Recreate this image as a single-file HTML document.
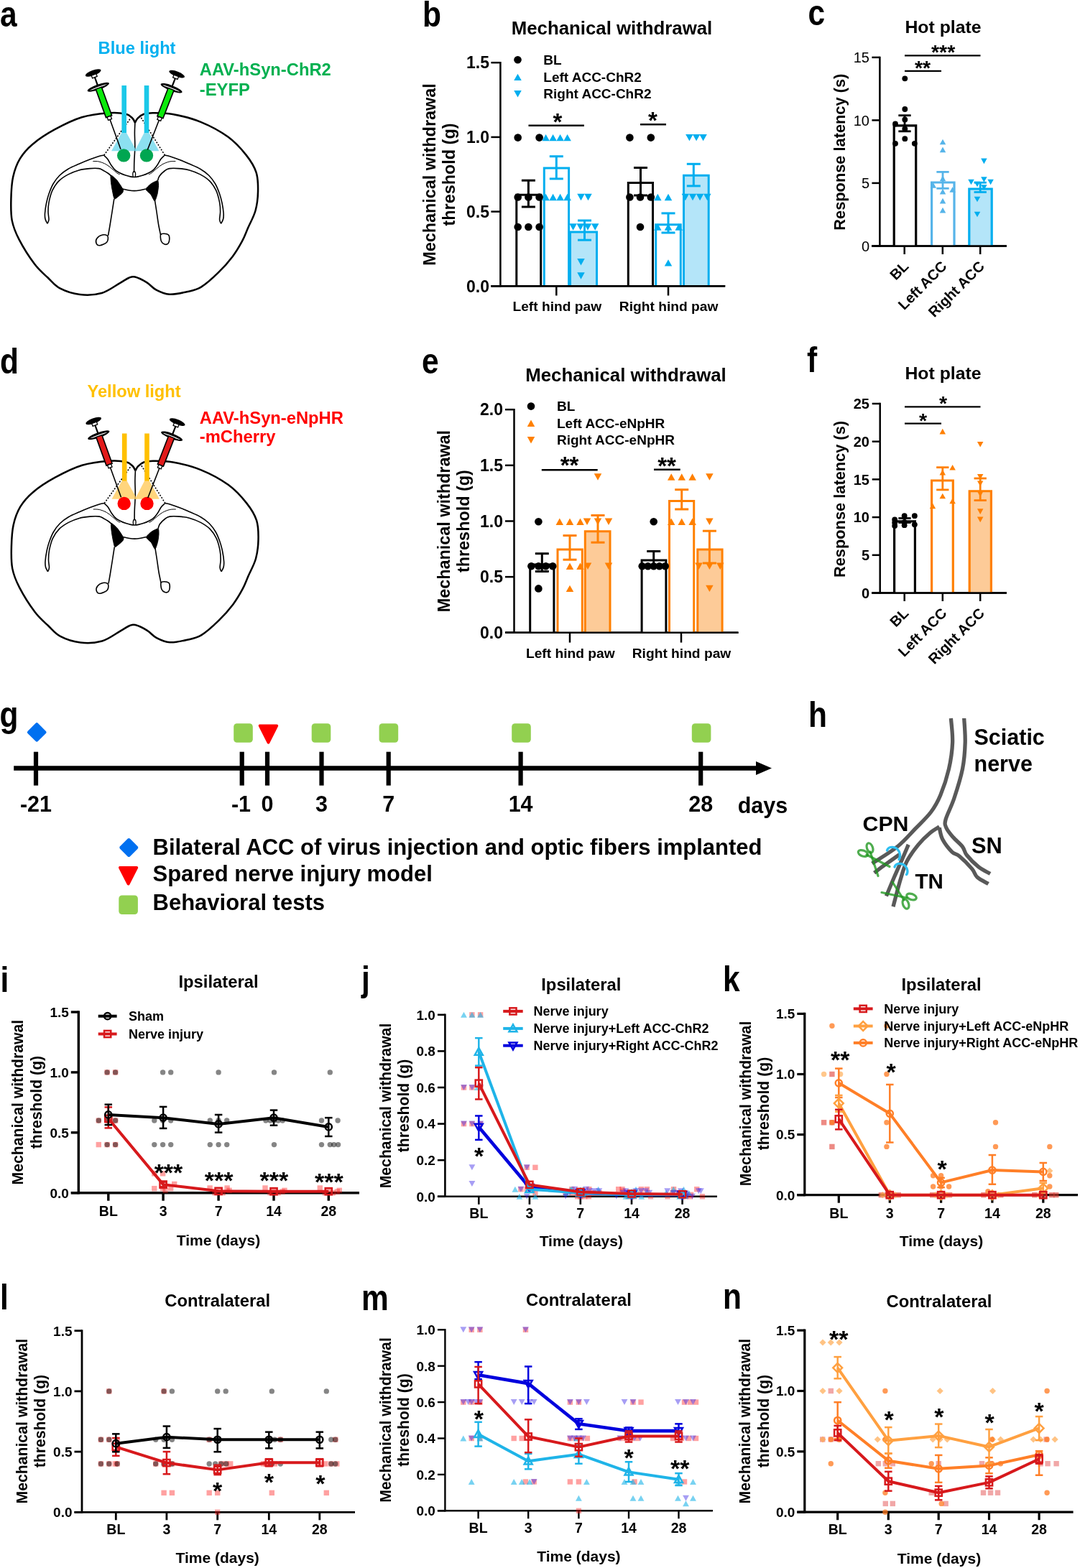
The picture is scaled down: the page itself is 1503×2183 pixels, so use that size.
<!DOCTYPE html><html><head><meta charset="utf-8"><title>Figure</title><style>html,body{margin:0;padding:0;background:#fff;overflow:hidden;}svg{display:block;}text{font-family:"Liberation Sans",Arial,Helvetica,sans-serif;font-weight:bold;}</style></head><body><svg width="1503" height="2183" viewBox="0 0 1503 2183"><rect width="1503" height="2183" fill="#fff"/><text transform="translate(0,37.3) scale(0.85,1)" x="0" y="0" font-size="50">a</text>
<g transform="translate(0,0)">
<path d="M187.86,170.85 C187.23,169.75 186.3,166.34 184.07,164.27 C181.84,162.21 179.86,159.64 174.46,158.46 C169.07,157.28 161.82,156.39 151.71,157.19 C141.59,157.99 126.42,159.38 113.78,163.26 C101.14,167.14 87.23,174.22 75.85,180.46 C64.48,186.69 53.52,193.94 45.51,200.68 C37.51,207.43 32.36,213.32 27.81,220.91 C23.26,228.5 20.27,236.92 18.2,246.19 C16.14,255.47 15.68,266.42 15.42,276.54 C15.17,286.65 14.83,297.4 16.69,306.88 C18.54,316.36 21.32,323.31 26.55,333.43 C31.77,343.54 41.38,358.71 48.04,367.56 C54.7,376.41 60.6,380.88 66.5,386.52 C72.4,392.17 75.98,397.52 83.44,401.44 C90.9,405.36 101.56,408.94 111.25,410.04 C120.94,411.13 132.32,410.67 141.59,408.02 C150.86,405.36 160.56,397.65 166.88,394.11 C173.2,390.57 176.02,388.21 179.52,386.78 C183.02,385.34 183.78,384.46 187.86,385.51 C191.95,386.57 199.12,390.06 204.05,393.1 C208.98,396.13 212.14,400.94 217.45,403.72 C222.76,406.5 228.82,409.36 235.9,409.79 C242.98,410.21 252.59,407.93 259.92,406.25 C267.26,404.56 272.61,404.1 279.9,399.67 C287.19,395.25 296.38,386.78 303.67,379.7 C310.96,372.62 318.08,364.53 323.64,357.19 C329.2,349.86 333.46,342.36 337.04,335.7 C340.62,329.04 342.06,324.32 345.13,317.24 C348.21,310.16 353.18,301.69 355.5,293.22 C357.82,284.75 358.87,275.31 359.04,266.42 C359.21,257.53 359.25,248.3 356.51,239.87 C353.77,231.45 349.14,224.07 342.6,215.85 C336.07,207.64 327.86,198.24 317.32,190.57 C306.78,182.9 292.25,175.1 279.39,169.84 C266.54,164.57 251.37,161.07 240.2,158.96 C229.03,156.86 219.13,157.19 212.39,157.19 C205.65,157.19 203.2,157.74 199.75,158.96 C196.29,160.19 193.64,162.55 191.66,164.53 C189.68,166.51 188.5,169.79 187.86,170.85" stroke="#000" stroke-width="2.5" fill="none" stroke-linejoin="round"/>
<path d="M144.8,216 C143.63,216.25 141.12,216.5 137.8,217.5 C134.48,218.5 129.55,220.22 124.9,222 C120.25,223.78 114.9,226 109.9,228.2 C104.9,230.4 99.4,232.53 94.9,235.2 C90.4,237.87 86.38,240.73 82.9,244.2 C79.42,247.67 76.48,251.7 74,256 C71.52,260.3 69.58,265.5 68,270 C66.42,274.5 65.42,278.5 64.5,283 C63.58,287.5 62.75,293.33 62.5,297 C62.25,300.67 62.42,302.62 63,305 C63.58,307.38 65.5,310.25 66,311.3" stroke="#000" stroke-width="1.6" fill="none"/>
<path d="M66,311.3 C66.33,310.38 67.83,308.55 68,305.8 C68.17,303.05 67,298.8 67,294.8 C67,290.8 67,286.78 68,281.8 C69,276.82 70.67,269.88 73,264.9 C75.33,259.92 78.35,255.57 82,251.9 C85.65,248.23 90.25,245.4 94.9,242.9 C99.55,240.4 104.9,238.28 109.9,236.9 C114.9,235.52 120.25,234.98 124.9,234.6 C129.55,234.22 134.62,234.12 137.8,234.6 C140.98,235.08 141.97,236.43 144,237.5 C146.03,238.57 148.17,239.75 150,241 C151.83,242.25 154.17,244.33 155,245" stroke="#000" stroke-width="1.6" fill="none"/>
<path d="M228.8,216 C229.97,216.25 232.48,216.5 235.8,217.5 C239.12,218.5 244.05,220.22 248.7,222 C253.35,223.78 258.7,226 263.7,228.2 C268.7,230.4 274.2,232.53 278.7,235.2 C283.2,237.87 287.22,240.73 290.7,244.2 C294.18,247.67 297.12,251.7 299.6,256 C302.08,260.3 304.02,265.5 305.6,270 C307.18,274.5 308.18,278.5 309.1,283 C310.02,287.5 310.85,293.33 311.1,297 C311.35,300.67 311.18,302.62 310.6,305 C310.02,307.38 308.1,310.25 307.6,311.3" stroke="#000" stroke-width="1.6" fill="none"/>
<path d="M307.6,311.3 C307.27,310.38 305.77,308.55 305.6,305.8 C305.43,303.05 306.6,298.8 306.6,294.8 C306.6,290.8 306.6,286.78 305.6,281.8 C304.6,276.82 302.93,269.88 300.6,264.9 C298.27,259.92 295.25,255.57 291.6,251.9 C287.95,248.23 283.35,245.4 278.7,242.9 C274.05,240.4 268.7,238.28 263.7,236.9 C258.7,235.52 253.35,234.98 248.7,234.6 C244.05,234.22 238.98,234.12 235.8,234.6 C232.62,235.08 231.9,235.77 229.6,237.5 C227.3,239.23 223.68,242.67 222,245 C220.32,247.33 219.92,250.42 219.5,251.5" stroke="#000" stroke-width="1.6" fill="none"/>
<path d="M129.3,224.5 C130.72,224.58 134.72,224.27 137.8,225 C140.88,225.73 144.8,227.25 147.8,228.9 C150.8,230.55 153.3,232.9 155.8,234.9 C158.3,236.9 160.97,239.57 162.8,240.9 C164.63,242.23 166.13,242.57 166.8,242.9" stroke="#000" stroke-width="1" fill="none"/>
<path d="M244.3,224.5 C242.88,224.58 238.88,224.27 235.8,225 C232.72,225.73 228.8,227.25 225.8,228.9 C222.8,230.55 220.3,232.9 217.8,234.9 C215.3,236.9 212.63,239.57 210.8,240.9 C208.97,242.23 207.47,242.57 206.8,242.9" stroke="#000" stroke-width="1" fill="none"/>
<path d="M144.8,216.5 C145.63,217.33 148.13,219.25 149.8,221.5 C151.47,223.75 152.8,227.25 154.8,230 C156.8,232.75 158.48,235.67 161.8,238 C165.12,240.33 170.53,242.58 174.7,244 C178.87,245.42 182.77,246.5 186.8,246.5 C190.83,246.5 194.73,245.42 198.9,244 C203.07,242.58 208.48,240.33 211.8,238 C215.12,235.67 216.8,232.75 218.8,230 C220.8,227.25 222.13,223.75 223.8,221.5 C225.47,219.25 227.97,217.33 228.8,216.5" stroke="#000" stroke-width="1.6" fill="none"/>
<path d="M170.8,263 C172.28,263.33 177.03,264.57 179.7,265 C182.37,265.43 184.43,265.6 186.8,265.6 C189.17,265.6 191.23,265.43 193.9,265 C196.57,264.57 201.32,263.33 202.8,263" stroke="#000" stroke-width="1.6" fill="none"/>
<path d="M154.3,244 C155.1,243.5 161.1,249 162.8,251 C164.5,253 170.6,262.2 171.3,264 C172,265.8 170.95,267.7 169.8,269 C168.65,270.3 161.05,276.9 159.8,277 C158.55,277.1 157.8,272.1 157.3,270 C156.8,267.9 155.1,258.6 154.8,256 C154.5,253.4 153.5,244.5 154.3,244Z" stroke="#000" stroke-width="1" fill="#000"/>
<path d="M219.5,251.5 C220.55,251.8 220.55,257.15 220.5,259 C220.45,260.85 219.52,267.9 219,270 C218.48,272.1 216.2,279.9 215.3,280 C214.4,280.1 211.23,272.65 210,271 C208.77,269.35 203,265 203,263.5 C203,262 208.35,257.2 210,256 C211.65,254.8 218.45,251.2 219.5,251.5Z" stroke="#000" stroke-width="1" fill="#000"/>
<path d="M158.8,276.8 C158.33,279.83 157,288.63 156,295 C155,301.37 153.72,309.5 152.8,315 C151.88,320.5 150.88,325.83 150.5,328" stroke="#000" stroke-width="1.6" fill="none"/>
<path d="M215.5,279 C215.92,281.67 217.17,289.5 218,295 C218.83,300.5 219.58,306.67 220.5,312 C221.42,317.33 223,324.5 223.5,327" stroke="#000" stroke-width="1.6" fill="none"/>
<path d="M149.8,328.7 C150.8,330.37 150.6,334.83 148.8,337 C147,339.17 141.47,341.42 139,341.7 C136.53,341.98 134.67,340.37 134,338.7 C133.33,337.03 133.53,333.65 135,331.7 C136.47,329.75 140.33,327.5 142.8,327 C145.27,326.5 148.8,327.03 149.8,328.7Z" stroke="#000" stroke-width="1.6" fill="none"/>
<path d="M223.5,327 C224.08,325.2 226.17,325.2 228,325.2 C229.83,325.2 233.2,325.7 234.5,327 C235.8,328.3 235.88,331 235.8,333 C235.72,335 235.13,337.83 234,339 C232.87,340.17 230.58,340.5 229,340 C227.42,339.5 225.42,338.17 224.5,336 C223.58,333.83 222.92,328.8 223.5,327Z" stroke="#000" stroke-width="1.6" fill="none"/>
<path d="M187.9,171 C187.82,173.33 187.42,179.33 187.4,185 C187.38,190.67 187.9,198.33 187.8,205 C187.7,211.67 187,219.17 186.8,225 C186.6,230.83 186.63,237.5 186.6,240" stroke="#000" stroke-width="1.6" fill="none"/>
<path d="M185.2,246 C184.2,242 185,238.5 186.7,238.5 C188.4,238.5 189.2,242 188.2,246" stroke="#000" stroke-width="1.3" fill="none"/>
<line x1="144.7" y1="216.2" x2="182.3" y2="163.7" stroke="#000" stroke-width="1.6" stroke-linecap="butt" stroke-dasharray="2,2"/>
<line x1="229.5" y1="216.2" x2="196.3" y2="163.7" stroke="#000" stroke-width="1.6" stroke-linecap="butt" stroke-dasharray="2,2"/>
<polygon points="169.5,184.6 175.8,184.6 190.2,210.2 155,210.2" fill="#6FD8EC" opacity="0.8"/>
<polygon points="200.8,184.6 207.1,184.6 221.4,210.2 187.6,210.2" fill="#6FD8EC" opacity="0.8"/>
<rect x="169.4" y="119" width="6.6" height="66" fill="#1BC8E8"/>
<rect x="200.7" y="119" width="6.6" height="66" fill="#1BC8E8"/>
<circle cx="172.2" cy="216.4" r="9.2" fill="#00A651"/>
<circle cx="204" cy="216.4" r="9.2" fill="#00A651"/>
</g>
<g transform="translate(129.7,101.5) rotate(-19.8)"><line x1="0" y1="0" x2="0" y2="21" stroke="#000" stroke-width="2.2"/><ellipse cx="0" cy="0" rx="11.5" ry="3.6" fill="#000"/><rect x="-3.5" y="2.5" width="7" height="4" fill="#fff" stroke="#000" stroke-width="1.3"/><ellipse cx="0" cy="21" rx="16" ry="3.8" fill="#000"/><ellipse cx="0" cy="21.3" rx="12.5" ry="0.8" fill="#fff"/><rect x="-4.3" y="22.5" width="8.6" height="42" fill="#0BEA0B" stroke="#000" stroke-width="1.6"/><rect x="-2.6" y="64.5" width="5.2" height="4.5" fill="#fff" stroke="#000" stroke-width="1.3"/><line x1="0" y1="69" x2="0" y2="113" stroke="#000" stroke-width="1.6"/></g>
<g transform="translate(246.2,103.1) rotate(21.2)"><line x1="0" y1="0" x2="0" y2="21" stroke="#000" stroke-width="2.2"/><ellipse cx="0" cy="0" rx="11.5" ry="3.6" fill="#000"/><rect x="-3.5" y="2.5" width="7" height="4" fill="#fff" stroke="#000" stroke-width="1.3"/><ellipse cx="0" cy="21" rx="16" ry="3.8" fill="#000"/><ellipse cx="0" cy="21.3" rx="12.5" ry="0.8" fill="#fff"/><rect x="-4.3" y="22.5" width="8.6" height="42" fill="#0BEA0B" stroke="#000" stroke-width="1.6"/><rect x="-2.6" y="64.5" width="5.2" height="4.5" fill="#fff" stroke="#000" stroke-width="1.3"/><line x1="0" y1="69" x2="0" y2="113" stroke="#000" stroke-width="1.6"/></g>
<text x="136.6" y="75" font-size="23.7" fill="#00B0F0">Blue light</text>
<text x="277.8" y="104.8" font-size="23.75" fill="#00B050">AAV-hSyn-ChR2</text>
<text x="277.8" y="133" font-size="23.75" fill="#00B050">-EYFP</text>
<text transform="translate(588,36.5) scale(0.85,1)" x="0" y="0" font-size="50">b</text>
<text x="851.5" y="48" font-size="25.8" text-anchor="middle">Mechanical withdrawal</text>
<line x1="696.4" y1="85.95" x2="696.4" y2="399.55" stroke="#000" stroke-width="2.5" stroke-linecap="butt"/>
<line x1="683.4" y1="398.3" x2="696.4" y2="398.3" stroke="#000" stroke-width="2.5" stroke-linecap="butt"/>
<text x="681" y="406.58" font-size="23" text-anchor="end">0.0</text>
<line x1="683.4" y1="294.6" x2="696.4" y2="294.6" stroke="#000" stroke-width="2.5" stroke-linecap="butt"/>
<text x="681" y="302.88" font-size="23" text-anchor="end">0.5</text>
<line x1="683.4" y1="190.9" x2="696.4" y2="190.9" stroke="#000" stroke-width="2.5" stroke-linecap="butt"/>
<text x="681" y="199.18" font-size="23" text-anchor="end">1.0</text>
<line x1="683.4" y1="87.2" x2="696.4" y2="87.2" stroke="#000" stroke-width="2.5" stroke-linecap="butt"/>
<text x="681" y="95.48" font-size="23" text-anchor="end">1.5</text>
<line x1="683.5" y1="398.3" x2="1009.2" y2="398.3" stroke="#000" stroke-width="2.5" stroke-linecap="butt"/>
<line x1="774.3" y1="398.3" x2="774.3" y2="411.5" stroke="#000" stroke-width="2.5" stroke-linecap="butt"/>
<line x1="930" y1="398.3" x2="930" y2="411.5" stroke="#000" stroke-width="2.5" stroke-linecap="butt"/>
<text x="775.3" y="432.6" font-size="19.2" text-anchor="middle">Left hind paw</text>
<text x="930.6" y="432.6" font-size="19.2" text-anchor="middle">Right hind paw</text>
<text x="606" y="243" font-size="23.4" text-anchor="middle" transform="rotate(-90 606 243)">Mechanical withdrawal</text>
<text x="633" y="243" font-size="23.4" text-anchor="middle" transform="rotate(-90 633 243)">threshold (g)</text>
<circle cx="720.5" cy="83.3" r="5.3" fill="#000"/>
<polygon points="720.5,102.68 715.25,112.12 725.75,112.12" fill="#00AEEF"/>
<polygon points="720.5,135.42 715.25,125.97 725.75,125.97" fill="#00AEEF"/>
<text x="756.3" y="89.6" font-size="19">BL</text>
<text x="756.3" y="113.7" font-size="19">Left ACC-ChR2</text>
<text x="756.3" y="137" font-size="19">Right ACC-ChR2</text>
<rect x="718.8" y="271.21" width="33.9" height="127.09" fill="#fff"/>
<path d="M718.8,398.3 L718.8,271.21 L752.7,271.21 L752.7,398.3" fill="none" stroke="#000" stroke-width="3"/>
<rect x="757.3" y="233.88" width="34.3" height="164.42" fill="#fff"/>
<path d="M757.3,398.3 L757.3,233.88 L791.6,233.88 L791.6,398.3" fill="none" stroke="#00AEEF" stroke-width="3"/>
<rect x="793.5" y="323.06" width="37" height="75.24" fill="#B4E5F9"/>
<path d="M793.5,398.3 L793.5,323.06 L830.5,323.06 L830.5,398.3" fill="none" stroke="#00AEEF" stroke-width="3"/>
<rect x="874.3" y="254.62" width="34.2" height="143.68" fill="#fff"/>
<path d="M874.3,398.3 L874.3,254.62 L908.5,254.62 L908.5,398.3" fill="none" stroke="#000" stroke-width="3"/>
<rect x="912.7" y="312.69" width="34.6" height="85.61" fill="#fff"/>
<path d="M912.7,398.3 L912.7,312.69 L947.3,312.69 L947.3,398.3" fill="none" stroke="#00AEEF" stroke-width="3"/>
<rect x="951.5" y="244.25" width="34.7" height="154.05" fill="#B4E5F9"/>
<path d="M951.5,398.3 L951.5,244.25 L986.2,244.25 L986.2,398.3" fill="none" stroke="#00AEEF" stroke-width="3"/>
<circle cx="720.7" cy="191.6" r="5.3" fill="#000"/>
<circle cx="750.6" cy="191.6" r="5.3" fill="#000"/>
<circle cx="720.7" cy="274.56" r="5.3" fill="#000"/>
<circle cx="735.4" cy="274.56" r="5.3" fill="#000"/>
<circle cx="750.6" cy="274.56" r="5.3" fill="#000"/>
<circle cx="720.7" cy="316.04" r="5.3" fill="#000"/>
<circle cx="735.4" cy="316.04" r="5.3" fill="#000"/>
<circle cx="750.6" cy="316.04" r="5.3" fill="#000"/>
<polygon points="759.6,186.88 754.35,196.32 764.85,196.32" fill="#00AEEF"/>
<polygon points="769.6,186.88 764.35,196.32 774.85,196.32" fill="#00AEEF"/>
<polygon points="779.6,186.88 774.35,196.32 784.85,196.32" fill="#00AEEF"/>
<polygon points="789.6,186.88 784.35,196.32 794.85,196.32" fill="#00AEEF"/>
<polygon points="759.6,269.83 754.35,279.29 764.85,279.29" fill="#00AEEF"/>
<polygon points="769.6,269.83 764.35,279.29 774.85,279.29" fill="#00AEEF"/>
<polygon points="779.6,269.83 774.35,279.29 784.85,279.29" fill="#00AEEF"/>
<polygon points="789.6,269.83 784.35,279.29 794.85,279.29" fill="#00AEEF"/>
<polygon points="808.5,279.29 803.25,269.83 813.75,269.83" fill="#00AEEF"/>
<polygon points="818.5,279.29 813.25,269.83 823.75,269.83" fill="#00AEEF"/>
<polygon points="797.6,320.77 792.35,311.31 802.85,311.31" fill="#00AEEF"/>
<polygon points="807.8,320.77 802.55,311.31 813.05,311.31" fill="#00AEEF"/>
<polygon points="818,320.77 812.75,311.31 823.25,311.31" fill="#00AEEF"/>
<polygon points="828.2,320.77 822.95,311.31 833.45,311.31" fill="#00AEEF"/>
<polygon points="808.5,369.43 803.25,359.97 813.75,359.97" fill="#00AEEF"/>
<polygon points="808.5,388.73 803.25,379.27 813.75,379.27" fill="#00AEEF"/>
<circle cx="876.4" cy="191.6" r="5.3" fill="#000"/>
<circle cx="905.8" cy="191.6" r="5.3" fill="#000"/>
<circle cx="876.4" cy="274.56" r="5.3" fill="#000"/>
<circle cx="891" cy="274.56" r="5.3" fill="#000"/>
<circle cx="905.8" cy="274.56" r="5.3" fill="#000"/>
<circle cx="891" cy="316.04" r="5.3" fill="#000"/>
<polygon points="915.3,269.83 910.05,279.29 920.55,279.29" fill="#00AEEF"/>
<polygon points="930,269.83 924.75,279.29 935.25,279.29" fill="#00AEEF"/>
<polygon points="915.3,311.31 910.05,320.77 920.55,320.77" fill="#00AEEF"/>
<polygon points="930,311.31 924.75,320.77 935.25,320.77" fill="#00AEEF"/>
<polygon points="944.7,311.31 939.45,320.77 949.95,320.77" fill="#00AEEF"/>
<polygon points="930,361.17 924.75,370.62 935.25,370.62" fill="#00AEEF"/>
<polygon points="959.4,196.32 954.15,186.88 964.65,186.88" fill="#00AEEF"/>
<polygon points="969.1,196.32 963.85,186.88 974.35,186.88" fill="#00AEEF"/>
<polygon points="978.6,196.32 973.35,186.88 983.85,186.88" fill="#00AEEF"/>
<polygon points="953.8,279.29 948.55,269.83 959.05,269.83" fill="#00AEEF"/>
<polygon points="964,279.29 958.75,269.83 969.25,269.83" fill="#00AEEF"/>
<polygon points="974.1,279.29 968.85,269.83 979.35,269.83" fill="#00AEEF"/>
<polygon points="984.3,279.29 979.05,269.83 989.55,269.83" fill="#00AEEF"/>
<line x1="735.4" y1="251.2" x2="735.4" y2="288" stroke="#000" stroke-width="3" stroke-linecap="butt"/>
<line x1="725.9" y1="251.2" x2="744.9" y2="251.2" stroke="#000" stroke-width="3" stroke-linecap="butt"/>
<line x1="725.9" y1="288" x2="744.9" y2="288" stroke="#000" stroke-width="3" stroke-linecap="butt"/>
<line x1="774.3" y1="217.7" x2="774.3" y2="248.9" stroke="#00AEEF" stroke-width="3" stroke-linecap="butt"/>
<line x1="764.8" y1="217.7" x2="783.8" y2="217.7" stroke="#00AEEF" stroke-width="3" stroke-linecap="butt"/>
<line x1="764.8" y1="248.9" x2="783.8" y2="248.9" stroke="#00AEEF" stroke-width="3" stroke-linecap="butt"/>
<line x1="813.5" y1="307" x2="813.5" y2="334.2" stroke="#00AEEF" stroke-width="3" stroke-linecap="butt"/>
<line x1="804" y1="307" x2="823" y2="307" stroke="#00AEEF" stroke-width="3" stroke-linecap="butt"/>
<line x1="804" y1="334.2" x2="823" y2="334.2" stroke="#00AEEF" stroke-width="3" stroke-linecap="butt"/>
<line x1="891.5" y1="233.5" x2="891.5" y2="272" stroke="#000" stroke-width="3" stroke-linecap="butt"/>
<line x1="882" y1="233.5" x2="901" y2="233.5" stroke="#000" stroke-width="3" stroke-linecap="butt"/>
<line x1="882" y1="272" x2="901" y2="272" stroke="#000" stroke-width="3" stroke-linecap="butt"/>
<line x1="930" y1="296.9" x2="930" y2="324" stroke="#00AEEF" stroke-width="3" stroke-linecap="butt"/>
<line x1="920.5" y1="296.9" x2="939.5" y2="296.9" stroke="#00AEEF" stroke-width="3" stroke-linecap="butt"/>
<line x1="920.5" y1="324" x2="939.5" y2="324" stroke="#00AEEF" stroke-width="3" stroke-linecap="butt"/>
<line x1="965.3" y1="228.3" x2="965.3" y2="258.9" stroke="#00AEEF" stroke-width="3" stroke-linecap="butt"/>
<line x1="955.8" y1="228.3" x2="974.8" y2="228.3" stroke="#00AEEF" stroke-width="3" stroke-linecap="butt"/>
<line x1="955.8" y1="258.9" x2="974.8" y2="258.9" stroke="#00AEEF" stroke-width="3" stroke-linecap="butt"/>
<line x1="735.5" y1="174.8" x2="812.9" y2="174.8" stroke="#000" stroke-width="2.5" stroke-linecap="butt"/>
<text x="776" y="180.8" font-size="33" text-anchor="middle">*</text>
<line x1="891" y1="173.3" x2="927" y2="173.3" stroke="#000" stroke-width="2.5" stroke-linecap="butt"/>
<text x="908.5" y="178.5" font-size="33" text-anchor="middle">*</text>
<line x1="683.5" y1="398.3" x2="1009.2" y2="398.3" stroke="#000" stroke-width="2.5" stroke-linecap="butt"/>
<text transform="translate(1124.5,35.3) scale(0.85,1)" x="0" y="0" font-size="50">c</text>
<text x="1312.5" y="45.6" font-size="24.8" text-anchor="middle">Hot plate</text>
<line x1="1224.4" y1="78.65" x2="1224.4" y2="343.65" stroke="#000" stroke-width="2.5" stroke-linecap="butt"/>
<line x1="1213.4" y1="342.4" x2="1224.4" y2="342.4" stroke="#000" stroke-width="2.5" stroke-linecap="butt"/>
<text x="1210" y="349.6" font-size="20" style="font-weight:normal" text-anchor="end">0</text>
<line x1="1213.4" y1="254.9" x2="1224.4" y2="254.9" stroke="#000" stroke-width="2.5" stroke-linecap="butt"/>
<text x="1210" y="262.1" font-size="20" style="font-weight:normal" text-anchor="end">5</text>
<line x1="1213.4" y1="167.4" x2="1224.4" y2="167.4" stroke="#000" stroke-width="2.5" stroke-linecap="butt"/>
<text x="1210" y="174.6" font-size="20" style="font-weight:normal" text-anchor="end">10</text>
<line x1="1213.4" y1="79.9" x2="1224.4" y2="79.9" stroke="#000" stroke-width="2.5" stroke-linecap="butt"/>
<text x="1210" y="87.1" font-size="20" style="font-weight:normal" text-anchor="end">15</text>
<line x1="1213" y1="342.4" x2="1400.9" y2="342.4" stroke="#000" stroke-width="2.5" stroke-linecap="butt"/>
<line x1="1258.7" y1="342.4" x2="1258.7" y2="354" stroke="#000" stroke-width="2.5" stroke-linecap="butt"/>
<line x1="1311.8" y1="342.4" x2="1311.8" y2="354" stroke="#000" stroke-width="2.5" stroke-linecap="butt"/>
<line x1="1364.2" y1="342.4" x2="1364.2" y2="354" stroke="#000" stroke-width="2.5" stroke-linecap="butt"/>
<text x="1265.7" y="372" font-size="20.2" text-anchor="end" transform="rotate(-45 1265.7 372)">BL</text>
<text x="1318.8" y="372" font-size="20.2" text-anchor="end" transform="rotate(-45 1318.8 372)">Left ACC</text>
<text x="1371.2" y="372" font-size="20.2" text-anchor="end" transform="rotate(-45 1371.2 372)">Right ACC</text>
<text x="1176" y="211.7" font-size="21.8" text-anchor="middle" transform="rotate(-90 1176 211.7)">Response latency (s)</text>
<rect x="1244.2" y="174.9" width="30.5" height="167.5" fill="#fff"/>
<path d="M1244.2,342.4 L1244.2,174.9 L1274.7,174.9 L1274.7,342.4" fill="none" stroke="#000" stroke-width="3.2"/>
<rect x="1296.6" y="254" width="31.4" height="88.4" fill="#fff"/>
<path d="M1296.6,342.4 L1296.6,254 L1328,254 L1328,342.4" fill="none" stroke="#56B4E9" stroke-width="3.2"/>
<rect x="1348.8" y="263" width="31.4" height="79.4" fill="#B4E5F9"/>
<path d="M1348.8,342.4 L1348.8,263 L1380.2,263 L1380.2,342.4" fill="none" stroke="#00AEEF" stroke-width="3.2"/>
<circle cx="1259.3" cy="109.3" r="3.9" fill="#000"/>
<circle cx="1259.3" cy="152" r="3.9" fill="#000"/>
<circle cx="1259.3" cy="166.4" r="3.9" fill="#000"/>
<circle cx="1246" cy="172.5" r="3.9" fill="#000"/>
<circle cx="1259.3" cy="179.4" r="3.9" fill="#000"/>
<circle cx="1259.3" cy="193.2" r="3.9" fill="#000"/>
<circle cx="1246" cy="199.8" r="3.9" fill="#000"/>
<circle cx="1272.8" cy="199.8" r="3.9" fill="#000"/>
<polygon points="1312,193.68 1307.75,201.32 1316.25,201.32" fill="#56B4E9"/>
<polygon points="1312,204.58 1307.75,212.22 1316.25,212.22" fill="#56B4E9"/>
<polygon points="1312,244.58 1307.75,252.22 1316.25,252.22" fill="#56B4E9"/>
<polygon points="1298.8,254.18 1294.55,261.82 1303.05,261.82" fill="#56B4E9"/>
<polygon points="1325.6,260.18 1321.35,267.82 1329.85,267.82" fill="#56B4E9"/>
<polygon points="1312,262.78 1307.75,270.43 1316.25,270.43" fill="#56B4E9"/>
<polygon points="1312,275.78 1307.75,283.43 1316.25,283.43" fill="#56B4E9"/>
<polygon points="1312,288.78 1307.75,296.43 1316.25,296.43" fill="#56B4E9"/>
<polygon points="1369.4,228.22 1365.15,220.58 1373.65,220.58" fill="#00AEEF"/>
<polygon points="1351.5,257.32 1347.25,249.68 1355.75,249.68" fill="#00AEEF"/>
<polygon points="1369.4,253.82 1365.15,246.18 1373.65,246.18" fill="#00AEEF"/>
<polygon points="1378.6,257.32 1374.35,249.68 1382.85,249.68" fill="#00AEEF"/>
<polygon points="1360,260.32 1355.75,252.68 1364.25,252.68" fill="#00AEEF"/>
<polygon points="1369.4,264.82 1365.15,257.18 1373.65,257.18" fill="#00AEEF"/>
<polygon points="1360,281.32 1355.75,273.68 1364.25,273.68" fill="#00AEEF"/>
<polygon points="1360,302.32 1355.75,294.68 1364.25,294.68" fill="#00AEEF"/>
<line x1="1259" y1="160.7" x2="1259" y2="182.8" stroke="#000" stroke-width="2.8" stroke-linecap="butt"/>
<line x1="1250.35" y1="160.7" x2="1267.65" y2="160.7" stroke="#000" stroke-width="2.8" stroke-linecap="butt"/>
<line x1="1250.35" y1="182.8" x2="1267.65" y2="182.8" stroke="#000" stroke-width="2.8" stroke-linecap="butt"/>
<line x1="1312" y1="239.4" x2="1312" y2="262.3" stroke="#56B4E9" stroke-width="2.8" stroke-linecap="butt"/>
<line x1="1303.35" y1="239.4" x2="1320.65" y2="239.4" stroke="#56B4E9" stroke-width="2.8" stroke-linecap="butt"/>
<line x1="1303.35" y1="262.3" x2="1320.65" y2="262.3" stroke="#56B4E9" stroke-width="2.8" stroke-linecap="butt"/>
<line x1="1364.2" y1="254.2" x2="1364.2" y2="267.5" stroke="#00AEEF" stroke-width="2.8" stroke-linecap="butt"/>
<line x1="1355.55" y1="254.2" x2="1372.85" y2="254.2" stroke="#00AEEF" stroke-width="2.8" stroke-linecap="butt"/>
<line x1="1355.55" y1="267.5" x2="1372.85" y2="267.5" stroke="#00AEEF" stroke-width="2.8" stroke-linecap="butt"/>
<line x1="1259" y1="77.3" x2="1364.5" y2="77.3" stroke="#000" stroke-width="2.3" stroke-linecap="butt"/>
<line x1="1259" y1="98.9" x2="1310" y2="98.9" stroke="#000" stroke-width="2.3" stroke-linecap="butt"/>
<text x="1312.6" y="81.5" font-size="28.5" text-anchor="middle">***</text>
<text x="1284" y="103.5" font-size="28.5" text-anchor="middle">**</text>
<line x1="1213" y1="342.4" x2="1400.9" y2="342.4" stroke="#000" stroke-width="2.5" stroke-linecap="butt"/>
<text transform="translate(0,520) scale(0.85,1)" x="0" y="0" font-size="50">d</text>
<g transform="translate(0.5,484.5)">
<path d="M187.86,170.85 C187.23,169.75 186.3,166.34 184.07,164.27 C181.84,162.21 179.86,159.64 174.46,158.46 C169.07,157.28 161.82,156.39 151.71,157.19 C141.59,157.99 126.42,159.38 113.78,163.26 C101.14,167.14 87.23,174.22 75.85,180.46 C64.48,186.69 53.52,193.94 45.51,200.68 C37.51,207.43 32.36,213.32 27.81,220.91 C23.26,228.5 20.27,236.92 18.2,246.19 C16.14,255.47 15.68,266.42 15.42,276.54 C15.17,286.65 14.83,297.4 16.69,306.88 C18.54,316.36 21.32,323.31 26.55,333.43 C31.77,343.54 41.38,358.71 48.04,367.56 C54.7,376.41 60.6,380.88 66.5,386.52 C72.4,392.17 75.98,397.52 83.44,401.44 C90.9,405.36 101.56,408.94 111.25,410.04 C120.94,411.13 132.32,410.67 141.59,408.02 C150.86,405.36 160.56,397.65 166.88,394.11 C173.2,390.57 176.02,388.21 179.52,386.78 C183.02,385.34 183.78,384.46 187.86,385.51 C191.95,386.57 199.12,390.06 204.05,393.1 C208.98,396.13 212.14,400.94 217.45,403.72 C222.76,406.5 228.82,409.36 235.9,409.79 C242.98,410.21 252.59,407.93 259.92,406.25 C267.26,404.56 272.61,404.1 279.9,399.67 C287.19,395.25 296.38,386.78 303.67,379.7 C310.96,372.62 318.08,364.53 323.64,357.19 C329.2,349.86 333.46,342.36 337.04,335.7 C340.62,329.04 342.06,324.32 345.13,317.24 C348.21,310.16 353.18,301.69 355.5,293.22 C357.82,284.75 358.87,275.31 359.04,266.42 C359.21,257.53 359.25,248.3 356.51,239.87 C353.77,231.45 349.14,224.07 342.6,215.85 C336.07,207.64 327.86,198.24 317.32,190.57 C306.78,182.9 292.25,175.1 279.39,169.84 C266.54,164.57 251.37,161.07 240.2,158.96 C229.03,156.86 219.13,157.19 212.39,157.19 C205.65,157.19 203.2,157.74 199.75,158.96 C196.29,160.19 193.64,162.55 191.66,164.53 C189.68,166.51 188.5,169.79 187.86,170.85" stroke="#000" stroke-width="2.5" fill="none" stroke-linejoin="round"/>
<path d="M144.8,216 C143.63,216.25 141.12,216.5 137.8,217.5 C134.48,218.5 129.55,220.22 124.9,222 C120.25,223.78 114.9,226 109.9,228.2 C104.9,230.4 99.4,232.53 94.9,235.2 C90.4,237.87 86.38,240.73 82.9,244.2 C79.42,247.67 76.48,251.7 74,256 C71.52,260.3 69.58,265.5 68,270 C66.42,274.5 65.42,278.5 64.5,283 C63.58,287.5 62.75,293.33 62.5,297 C62.25,300.67 62.42,302.62 63,305 C63.58,307.38 65.5,310.25 66,311.3" stroke="#000" stroke-width="1.6" fill="none"/>
<path d="M66,311.3 C66.33,310.38 67.83,308.55 68,305.8 C68.17,303.05 67,298.8 67,294.8 C67,290.8 67,286.78 68,281.8 C69,276.82 70.67,269.88 73,264.9 C75.33,259.92 78.35,255.57 82,251.9 C85.65,248.23 90.25,245.4 94.9,242.9 C99.55,240.4 104.9,238.28 109.9,236.9 C114.9,235.52 120.25,234.98 124.9,234.6 C129.55,234.22 134.62,234.12 137.8,234.6 C140.98,235.08 141.97,236.43 144,237.5 C146.03,238.57 148.17,239.75 150,241 C151.83,242.25 154.17,244.33 155,245" stroke="#000" stroke-width="1.6" fill="none"/>
<path d="M228.8,216 C229.97,216.25 232.48,216.5 235.8,217.5 C239.12,218.5 244.05,220.22 248.7,222 C253.35,223.78 258.7,226 263.7,228.2 C268.7,230.4 274.2,232.53 278.7,235.2 C283.2,237.87 287.22,240.73 290.7,244.2 C294.18,247.67 297.12,251.7 299.6,256 C302.08,260.3 304.02,265.5 305.6,270 C307.18,274.5 308.18,278.5 309.1,283 C310.02,287.5 310.85,293.33 311.1,297 C311.35,300.67 311.18,302.62 310.6,305 C310.02,307.38 308.1,310.25 307.6,311.3" stroke="#000" stroke-width="1.6" fill="none"/>
<path d="M307.6,311.3 C307.27,310.38 305.77,308.55 305.6,305.8 C305.43,303.05 306.6,298.8 306.6,294.8 C306.6,290.8 306.6,286.78 305.6,281.8 C304.6,276.82 302.93,269.88 300.6,264.9 C298.27,259.92 295.25,255.57 291.6,251.9 C287.95,248.23 283.35,245.4 278.7,242.9 C274.05,240.4 268.7,238.28 263.7,236.9 C258.7,235.52 253.35,234.98 248.7,234.6 C244.05,234.22 238.98,234.12 235.8,234.6 C232.62,235.08 231.9,235.77 229.6,237.5 C227.3,239.23 223.68,242.67 222,245 C220.32,247.33 219.92,250.42 219.5,251.5" stroke="#000" stroke-width="1.6" fill="none"/>
<path d="M129.3,224.5 C130.72,224.58 134.72,224.27 137.8,225 C140.88,225.73 144.8,227.25 147.8,228.9 C150.8,230.55 153.3,232.9 155.8,234.9 C158.3,236.9 160.97,239.57 162.8,240.9 C164.63,242.23 166.13,242.57 166.8,242.9" stroke="#000" stroke-width="1" fill="none"/>
<path d="M244.3,224.5 C242.88,224.58 238.88,224.27 235.8,225 C232.72,225.73 228.8,227.25 225.8,228.9 C222.8,230.55 220.3,232.9 217.8,234.9 C215.3,236.9 212.63,239.57 210.8,240.9 C208.97,242.23 207.47,242.57 206.8,242.9" stroke="#000" stroke-width="1" fill="none"/>
<path d="M144.8,216.5 C145.63,217.33 148.13,219.25 149.8,221.5 C151.47,223.75 152.8,227.25 154.8,230 C156.8,232.75 158.48,235.67 161.8,238 C165.12,240.33 170.53,242.58 174.7,244 C178.87,245.42 182.77,246.5 186.8,246.5 C190.83,246.5 194.73,245.42 198.9,244 C203.07,242.58 208.48,240.33 211.8,238 C215.12,235.67 216.8,232.75 218.8,230 C220.8,227.25 222.13,223.75 223.8,221.5 C225.47,219.25 227.97,217.33 228.8,216.5" stroke="#000" stroke-width="1.6" fill="none"/>
<path d="M170.8,263 C172.28,263.33 177.03,264.57 179.7,265 C182.37,265.43 184.43,265.6 186.8,265.6 C189.17,265.6 191.23,265.43 193.9,265 C196.57,264.57 201.32,263.33 202.8,263" stroke="#000" stroke-width="1.6" fill="none"/>
<path d="M154.3,244 C155.1,243.5 161.1,249 162.8,251 C164.5,253 170.6,262.2 171.3,264 C172,265.8 170.95,267.7 169.8,269 C168.65,270.3 161.05,276.9 159.8,277 C158.55,277.1 157.8,272.1 157.3,270 C156.8,267.9 155.1,258.6 154.8,256 C154.5,253.4 153.5,244.5 154.3,244Z" stroke="#000" stroke-width="1" fill="#000"/>
<path d="M219.5,251.5 C220.55,251.8 220.55,257.15 220.5,259 C220.45,260.85 219.52,267.9 219,270 C218.48,272.1 216.2,279.9 215.3,280 C214.4,280.1 211.23,272.65 210,271 C208.77,269.35 203,265 203,263.5 C203,262 208.35,257.2 210,256 C211.65,254.8 218.45,251.2 219.5,251.5Z" stroke="#000" stroke-width="1" fill="#000"/>
<path d="M158.8,276.8 C158.33,279.83 157,288.63 156,295 C155,301.37 153.72,309.5 152.8,315 C151.88,320.5 150.88,325.83 150.5,328" stroke="#000" stroke-width="1.6" fill="none"/>
<path d="M215.5,279 C215.92,281.67 217.17,289.5 218,295 C218.83,300.5 219.58,306.67 220.5,312 C221.42,317.33 223,324.5 223.5,327" stroke="#000" stroke-width="1.6" fill="none"/>
<path d="M149.8,328.7 C150.8,330.37 150.6,334.83 148.8,337 C147,339.17 141.47,341.42 139,341.7 C136.53,341.98 134.67,340.37 134,338.7 C133.33,337.03 133.53,333.65 135,331.7 C136.47,329.75 140.33,327.5 142.8,327 C145.27,326.5 148.8,327.03 149.8,328.7Z" stroke="#000" stroke-width="1.6" fill="none"/>
<path d="M223.5,327 C224.08,325.2 226.17,325.2 228,325.2 C229.83,325.2 233.2,325.7 234.5,327 C235.8,328.3 235.88,331 235.8,333 C235.72,335 235.13,337.83 234,339 C232.87,340.17 230.58,340.5 229,340 C227.42,339.5 225.42,338.17 224.5,336 C223.58,333.83 222.92,328.8 223.5,327Z" stroke="#000" stroke-width="1.6" fill="none"/>
<path d="M187.9,171 C187.82,173.33 187.42,179.33 187.4,185 C187.38,190.67 187.9,198.33 187.8,205 C187.7,211.67 187,219.17 186.8,225 C186.6,230.83 186.63,237.5 186.6,240" stroke="#000" stroke-width="1.6" fill="none"/>
<path d="M185.2,246 C184.2,242 185,238.5 186.7,238.5 C188.4,238.5 189.2,242 188.2,246" stroke="#000" stroke-width="1.3" fill="none"/>
<line x1="144.7" y1="216.2" x2="182.3" y2="163.7" stroke="#000" stroke-width="1.6" stroke-linecap="butt" stroke-dasharray="2,2"/>
<line x1="229.5" y1="216.2" x2="196.3" y2="163.7" stroke="#000" stroke-width="1.6" stroke-linecap="butt" stroke-dasharray="2,2"/>
<polygon points="169.5,184.6 175.8,184.6 190.2,210.2 155,210.2" fill="#FFCB5C" opacity="0.8"/>
<polygon points="200.8,184.6 207.1,184.6 221.4,210.2 187.6,210.2" fill="#FFCB5C" opacity="0.8"/>
<rect x="169.4" y="119" width="6.6" height="66" fill="#FFC000"/>
<rect x="200.7" y="119" width="6.6" height="66" fill="#FFC000"/>
<circle cx="172.2" cy="216.4" r="9.2" fill="#FF0000"/>
<circle cx="204" cy="216.4" r="9.2" fill="#FF0000"/>
</g>
<g transform="translate(130.2,586) rotate(-19.8)"><line x1="0" y1="0" x2="0" y2="21" stroke="#000" stroke-width="2.2"/><ellipse cx="0" cy="0" rx="11.5" ry="3.6" fill="#000"/><rect x="-3.5" y="2.5" width="7" height="4" fill="#fff" stroke="#000" stroke-width="1.3"/><ellipse cx="0" cy="21" rx="16" ry="3.8" fill="#000"/><ellipse cx="0" cy="21.3" rx="12.5" ry="0.8" fill="#fff"/><rect x="-4.3" y="22.5" width="8.6" height="42" fill="#E21B1B" stroke="#000" stroke-width="1.6"/><rect x="-2.6" y="64.5" width="5.2" height="4.5" fill="#fff" stroke="#000" stroke-width="1.3"/><line x1="0" y1="69" x2="0" y2="113" stroke="#000" stroke-width="1.6"/></g>
<g transform="translate(246.7,587.6) rotate(21.2)"><line x1="0" y1="0" x2="0" y2="21" stroke="#000" stroke-width="2.2"/><ellipse cx="0" cy="0" rx="11.5" ry="3.6" fill="#000"/><rect x="-3.5" y="2.5" width="7" height="4" fill="#fff" stroke="#000" stroke-width="1.3"/><ellipse cx="0" cy="21" rx="16" ry="3.8" fill="#000"/><ellipse cx="0" cy="21.3" rx="12.5" ry="0.8" fill="#fff"/><rect x="-4.3" y="22.5" width="8.6" height="42" fill="#E21B1B" stroke="#000" stroke-width="1.6"/><rect x="-2.6" y="64.5" width="5.2" height="4.5" fill="#fff" stroke="#000" stroke-width="1.3"/><line x1="0" y1="69" x2="0" y2="113" stroke="#000" stroke-width="1.6"/></g>
<text x="121.4" y="553.2" font-size="23.7" fill="#FFC000">Yellow light</text>
<text x="277.8" y="589.8" font-size="23.75" fill="#FF0000">AAV-hSyn-eNpHR</text>
<text x="277.8" y="616.4" font-size="23.75" fill="#FF0000">-mCherry</text>
<text transform="translate(587,519.5) scale(0.85,1)" x="0" y="0" font-size="50">e</text>
<text x="871" y="530.7" font-size="25.8" text-anchor="middle">Mechanical withdrawal</text>
<line x1="715.5" y1="568.95" x2="715.5" y2="882.05" stroke="#000" stroke-width="2.5" stroke-linecap="butt"/>
<line x1="703" y1="880.8" x2="715.5" y2="880.8" stroke="#000" stroke-width="2.5" stroke-linecap="butt"/>
<text x="700" y="889.08" font-size="23" text-anchor="end">0.0</text>
<line x1="703" y1="803.15" x2="715.5" y2="803.15" stroke="#000" stroke-width="2.5" stroke-linecap="butt"/>
<text x="700" y="811.43" font-size="23" text-anchor="end">0.5</text>
<line x1="703" y1="725.5" x2="715.5" y2="725.5" stroke="#000" stroke-width="2.5" stroke-linecap="butt"/>
<text x="700" y="733.78" font-size="23" text-anchor="end">1.0</text>
<line x1="703" y1="647.85" x2="715.5" y2="647.85" stroke="#000" stroke-width="2.5" stroke-linecap="butt"/>
<text x="700" y="656.13" font-size="23" text-anchor="end">1.5</text>
<line x1="703" y1="570.2" x2="715.5" y2="570.2" stroke="#000" stroke-width="2.5" stroke-linecap="butt"/>
<text x="700" y="578.48" font-size="23" text-anchor="end">2.0</text>
<line x1="703" y1="880.8" x2="1027.5" y2="880.8" stroke="#000" stroke-width="2.5" stroke-linecap="butt"/>
<line x1="793" y1="880.8" x2="793" y2="894.6" stroke="#000" stroke-width="2.5" stroke-linecap="butt"/>
<line x1="948" y1="880.8" x2="948" y2="894.6" stroke="#000" stroke-width="2.5" stroke-linecap="butt"/>
<text x="793.8" y="916" font-size="19.2" text-anchor="middle">Left hind paw</text>
<text x="948.5" y="916" font-size="19.2" text-anchor="middle">Right hind paw</text>
<text x="626" y="725.6" font-size="23.4" text-anchor="middle" transform="rotate(-90 626 725.6)">Mechanical withdrawal</text>
<text x="653" y="725.6" font-size="23.4" text-anchor="middle" transform="rotate(-90 653 725.6)">threshold (g)</text>
<circle cx="739" cy="565.6" r="5.3" fill="#000"/>
<polygon points="739,584.57 733.75,594.02 744.25,594.02" fill="#FF8000"/>
<polygon points="739,617.43 733.75,607.98 744.25,607.98" fill="#FF8000"/>
<text x="775" y="571.9" font-size="19">BL</text>
<text x="775" y="595.6" font-size="19">Left ACC-eNpHR</text>
<text x="775" y="619" font-size="19">Right ACC-eNpHR</text>
<rect x="737.7" y="786.01" width="33.2" height="94.79" fill="#fff"/>
<path d="M737.7,880.8 L737.7,786.01 L770.9,786.01 L770.9,880.8" fill="none" stroke="#000" stroke-width="3"/>
<rect x="776" y="765.05" width="34.3" height="115.75" fill="#fff"/>
<path d="M776,880.8 L776,765.05 L810.3,765.05 L810.3,880.8" fill="none" stroke="#FF8000" stroke-width="3"/>
<rect x="814.3" y="739.73" width="34.7" height="141.07" fill="#FDCB98"/>
<path d="M814.3,880.8 L814.3,739.73 L849,739.73 L849,880.8" fill="none" stroke="#FF8000" stroke-width="3"/>
<rect x="893.1" y="780.11" width="33.8" height="100.69" fill="#fff"/>
<path d="M893.1,880.8 L893.1,780.11 L926.9,780.11 L926.9,880.8" fill="none" stroke="#000" stroke-width="3"/>
<rect x="931.5" y="697.49" width="34.2" height="183.31" fill="#fff"/>
<path d="M931.5,880.8 L931.5,697.49 L965.7,697.49 L965.7,880.8" fill="none" stroke="#FF8000" stroke-width="3"/>
<rect x="970.8" y="765.05" width="34.3" height="115.75" fill="#FDCB98"/>
<path d="M970.8,880.8 L970.8,765.05 L1005.1,765.05 L1005.1,880.8" fill="none" stroke="#FF8000" stroke-width="3"/>
<circle cx="749.4" cy="726.2" r="5.3" fill="#000"/>
<circle cx="749.4" cy="819.38" r="5.3" fill="#000"/>
<circle cx="739.4" cy="788.32" r="5.3" fill="#000"/>
<circle cx="749.4" cy="788.32" r="5.3" fill="#000"/>
<circle cx="759.6" cy="788.32" r="5.3" fill="#000"/>
<circle cx="769.2" cy="788.32" r="5.3" fill="#000"/>
<polygon points="778.8,721.48 773.55,730.93 784.05,730.93" fill="#FF8000"/>
<polygon points="793,721.48 787.75,730.93 798.25,730.93" fill="#FF8000"/>
<polygon points="807.5,721.48 802.25,730.93 812.75,730.93" fill="#FF8000"/>
<polygon points="793,783.59 787.75,793.04 798.25,793.04" fill="#FF8000"/>
<polygon points="807.5,783.59 802.25,793.04 812.75,793.04" fill="#FF8000"/>
<polygon points="793,814.65 787.75,824.11 798.25,824.11" fill="#FF8000"/>
<polygon points="832,668.8 826.75,659.35 837.25,659.35" fill="#FF8000"/>
<polygon points="817,730.93 811.75,721.48 822.25,721.48" fill="#FF8000"/>
<polygon points="832,730.93 826.75,721.48 837.25,721.48" fill="#FF8000"/>
<polygon points="847,730.93 841.75,721.48 852.25,721.48" fill="#FF8000"/>
<polygon points="818,793.04 812.75,783.59 823.25,783.59" fill="#FF8000"/>
<polygon points="847,793.04 841.75,783.59 852.25,783.59" fill="#FF8000"/>
<circle cx="909.7" cy="726.2" r="5.3" fill="#000"/>
<circle cx="893.7" cy="788.32" r="5.3" fill="#000"/>
<circle cx="901.7" cy="788.32" r="5.3" fill="#000"/>
<circle cx="909.7" cy="788.32" r="5.3" fill="#000"/>
<circle cx="917.7" cy="788.32" r="5.3" fill="#000"/>
<circle cx="925.7" cy="788.32" r="5.3" fill="#000"/>
<polygon points="934.2,659.35 928.95,668.8 939.45,668.8" fill="#FF8000"/>
<polygon points="948.7,659.35 943.45,668.8 953.95,668.8" fill="#FF8000"/>
<polygon points="963.6,659.35 958.35,668.8 968.85,668.8" fill="#FF8000"/>
<polygon points="934.2,721.48 928.95,730.93 939.45,730.93" fill="#FF8000"/>
<polygon points="948.7,721.48 943.45,730.93 953.95,730.93" fill="#FF8000"/>
<polygon points="963.6,721.48 958.35,730.93 968.85,730.93" fill="#FF8000"/>
<polygon points="987.4,668.8 982.15,659.35 992.65,659.35" fill="#FF8000"/>
<polygon points="987.4,730.93 982.15,721.48 992.65,721.48" fill="#FF8000"/>
<polygon points="972.5,793.04 967.25,783.59 977.75,783.59" fill="#FF8000"/>
<polygon points="987.4,793.04 982.15,783.59 992.65,783.59" fill="#FF8000"/>
<polygon points="1002.3,793.04 997.05,783.59 1007.55,783.59" fill="#FF8000"/>
<polygon points="987.4,824.11 982.15,814.65 992.65,814.65" fill="#FF8000"/>
<line x1="754.3" y1="770.7" x2="754.3" y2="795.6" stroke="#000" stroke-width="3" stroke-linecap="butt"/>
<line x1="744.8" y1="770.7" x2="763.8" y2="770.7" stroke="#000" stroke-width="3" stroke-linecap="butt"/>
<line x1="744.8" y1="795.6" x2="763.8" y2="795.6" stroke="#000" stroke-width="3" stroke-linecap="butt"/>
<line x1="793" y1="745.6" x2="793" y2="779.2" stroke="#FF8000" stroke-width="3" stroke-linecap="butt"/>
<line x1="783.5" y1="745.6" x2="802.5" y2="745.6" stroke="#FF8000" stroke-width="3" stroke-linecap="butt"/>
<line x1="783.5" y1="779.2" x2="802.5" y2="779.2" stroke="#FF8000" stroke-width="3" stroke-linecap="butt"/>
<line x1="832" y1="717.5" x2="832" y2="755.2" stroke="#FF8000" stroke-width="3" stroke-linecap="butt"/>
<line x1="822.5" y1="717.5" x2="841.5" y2="717.5" stroke="#FF8000" stroke-width="3" stroke-linecap="butt"/>
<line x1="822.5" y1="755.2" x2="841.5" y2="755.2" stroke="#FF8000" stroke-width="3" stroke-linecap="butt"/>
<line x1="909.7" y1="767.5" x2="909.7" y2="789" stroke="#000" stroke-width="3" stroke-linecap="butt"/>
<line x1="900.2" y1="767.5" x2="919.2" y2="767.5" stroke="#000" stroke-width="3" stroke-linecap="butt"/>
<line x1="900.2" y1="789" x2="919.2" y2="789" stroke="#000" stroke-width="3" stroke-linecap="butt"/>
<line x1="948.7" y1="681.7" x2="948.7" y2="709" stroke="#FF8000" stroke-width="3" stroke-linecap="butt"/>
<line x1="939.2" y1="681.7" x2="958.2" y2="681.7" stroke="#FF8000" stroke-width="3" stroke-linecap="butt"/>
<line x1="939.2" y1="709" x2="958.2" y2="709" stroke="#FF8000" stroke-width="3" stroke-linecap="butt"/>
<line x1="987.4" y1="739.2" x2="987.4" y2="784" stroke="#FF8000" stroke-width="3" stroke-linecap="butt"/>
<line x1="977.9" y1="739.2" x2="996.9" y2="739.2" stroke="#FF8000" stroke-width="3" stroke-linecap="butt"/>
<line x1="977.9" y1="784" x2="996.9" y2="784" stroke="#FF8000" stroke-width="3" stroke-linecap="butt"/>
<line x1="753.8" y1="654.2" x2="831.7" y2="654.2" stroke="#000" stroke-width="2.5" stroke-linecap="butt"/>
<text x="792.5" y="659.2" font-size="33" text-anchor="middle">**</text>
<line x1="910" y1="653.8" x2="946.7" y2="653.8" stroke="#000" stroke-width="2.5" stroke-linecap="butt"/>
<text x="928" y="660.2" font-size="33" text-anchor="middle">**</text>
<line x1="703" y1="880.8" x2="1027.5" y2="880.8" stroke="#000" stroke-width="2.5" stroke-linecap="butt"/>
<text transform="translate(1123,518.3) scale(0.85,1)" x="0" y="0" font-size="50">f</text>
<text x="1312.5" y="528" font-size="24.8" text-anchor="middle">Hot plate</text>
<line x1="1224.7" y1="560.75" x2="1224.7" y2="826.75" stroke="#000" stroke-width="2.5" stroke-linecap="butt"/>
<line x1="1213.7" y1="825.5" x2="1224.7" y2="825.5" stroke="#000" stroke-width="2.5" stroke-linecap="butt"/>
<text x="1210" y="832.7" font-size="20" text-anchor="end">0</text>
<line x1="1213.7" y1="772.8" x2="1224.7" y2="772.8" stroke="#000" stroke-width="2.5" stroke-linecap="butt"/>
<text x="1210" y="780" font-size="20" text-anchor="end">5</text>
<line x1="1213.7" y1="720.1" x2="1224.7" y2="720.1" stroke="#000" stroke-width="2.5" stroke-linecap="butt"/>
<text x="1210" y="727.3" font-size="20" text-anchor="end">10</text>
<line x1="1213.7" y1="667.4" x2="1224.7" y2="667.4" stroke="#000" stroke-width="2.5" stroke-linecap="butt"/>
<text x="1210" y="674.6" font-size="20" text-anchor="end">15</text>
<line x1="1213.7" y1="614.7" x2="1224.7" y2="614.7" stroke="#000" stroke-width="2.5" stroke-linecap="butt"/>
<text x="1210" y="621.9" font-size="20" text-anchor="end">20</text>
<line x1="1213.7" y1="562" x2="1224.7" y2="562" stroke="#000" stroke-width="2.5" stroke-linecap="butt"/>
<text x="1210" y="569.2" font-size="20" text-anchor="end">25</text>
<line x1="1213" y1="825.5" x2="1400.9" y2="825.5" stroke="#000" stroke-width="2.5" stroke-linecap="butt"/>
<line x1="1258.7" y1="825.5" x2="1258.7" y2="837" stroke="#000" stroke-width="2.5" stroke-linecap="butt"/>
<line x1="1311.8" y1="825.5" x2="1311.8" y2="837" stroke="#000" stroke-width="2.5" stroke-linecap="butt"/>
<line x1="1364.2" y1="825.5" x2="1364.2" y2="837" stroke="#000" stroke-width="2.5" stroke-linecap="butt"/>
<text x="1265.7" y="855" font-size="20.2" text-anchor="end" transform="rotate(-45 1265.7 855)">BL</text>
<text x="1318.8" y="855" font-size="20.2" text-anchor="end" transform="rotate(-45 1318.8 855)">Left ACC</text>
<text x="1371.2" y="855" font-size="20.2" text-anchor="end" transform="rotate(-45 1371.2 855)">Right ACC</text>
<text x="1176" y="695" font-size="21.8" text-anchor="middle" transform="rotate(-90 1176 695)">Response latency (s)</text>
<rect x="1244.6" y="725.92" width="28.8" height="99.58" fill="#fff"/>
<path d="M1244.6,825.5 L1244.6,725.92 L1273.4,725.92 L1273.4,825.5" fill="none" stroke="#000" stroke-width="3.2"/>
<rect x="1296.6" y="669" width="29.7" height="156.5" fill="#fff"/>
<path d="M1296.6,825.5 L1296.6,669 L1326.3,669 L1326.3,825.5" fill="none" stroke="#FF8000" stroke-width="3.2"/>
<rect x="1349.2" y="683.76" width="30.2" height="141.74" fill="#FDCB98"/>
<path d="M1349.2,825.5 L1349.2,683.76 L1379.4,683.76 L1379.4,825.5" fill="none" stroke="#FF8000" stroke-width="3.2"/>
<circle cx="1245.16" cy="723.39" r="3.9" fill="#000"/>
<circle cx="1258.65" cy="718.2" r="3.9" fill="#000"/>
<circle cx="1272.84" cy="718.2" r="3.9" fill="#000"/>
<circle cx="1245.16" cy="732.04" r="3.9" fill="#000"/>
<circle cx="1258.65" cy="731.18" r="3.9" fill="#000"/>
<circle cx="1272.84" cy="730.31" r="3.9" fill="#000"/>
<circle cx="1258.65" cy="726.85" r="3.9" fill="#000"/>
<circle cx="1245.16" cy="727.72" r="3.9" fill="#000"/>
<polygon points="1311.76,596.73 1307.51,604.38 1316.01,604.38" fill="#FF8000"/>
<polygon points="1325.61,646.9 1321.36,654.55 1329.86,654.55" fill="#FF8000"/>
<polygon points="1311.76,653.82 1307.51,661.47 1316.01,661.47" fill="#FF8000"/>
<polygon points="1311.76,686.69 1307.51,694.34 1316.01,694.34" fill="#FF8000"/>
<polygon points="1297.92,700.53 1293.67,708.18 1302.17,708.18" fill="#FF8000"/>
<polygon points="1325.61,693.61 1321.36,701.26 1329.86,701.26" fill="#FF8000"/>
<polygon points="1364.19,622.54 1359.94,614.89 1368.44,614.89" fill="#FF8000"/>
<polygon points="1364.19,667.53 1359.94,659.88 1368.44,659.88" fill="#FF8000"/>
<polygon points="1364.19,677.04 1359.94,669.39 1368.44,669.39" fill="#FF8000"/>
<polygon points="1364.19,691.75 1359.94,684.1 1368.44,684.1" fill="#FF8000"/>
<polygon points="1364.19,715.97 1359.94,708.32 1368.44,708.32" fill="#FF8000"/>
<polygon points="1364.19,727.22 1359.94,719.57 1368.44,719.57" fill="#FF8000"/>
<line x1="1259" y1="721.5" x2="1259" y2="727.5" stroke="#000" stroke-width="2.8" stroke-linecap="butt"/>
<line x1="1250.35" y1="721.5" x2="1267.65" y2="721.5" stroke="#000" stroke-width="2.8" stroke-linecap="butt"/>
<line x1="1250.35" y1="727.5" x2="1267.65" y2="727.5" stroke="#000" stroke-width="2.8" stroke-linecap="butt"/>
<line x1="1311.8" y1="650.7" x2="1311.8" y2="681.9" stroke="#FF8000" stroke-width="2.8" stroke-linecap="butt"/>
<line x1="1303.15" y1="650.7" x2="1320.45" y2="650.7" stroke="#FF8000" stroke-width="2.8" stroke-linecap="butt"/>
<line x1="1303.15" y1="681.9" x2="1320.45" y2="681.9" stroke="#FF8000" stroke-width="2.8" stroke-linecap="butt"/>
<line x1="1364.2" y1="666" x2="1364.2" y2="696.6" stroke="#FF8000" stroke-width="2.8" stroke-linecap="butt"/>
<line x1="1355.55" y1="666" x2="1372.85" y2="666" stroke="#FF8000" stroke-width="2.8" stroke-linecap="butt"/>
<line x1="1355.55" y1="696.6" x2="1372.85" y2="696.6" stroke="#FF8000" stroke-width="2.8" stroke-linecap="butt"/>
<line x1="1259" y1="566.3" x2="1364.5" y2="566.3" stroke="#000" stroke-width="2.3" stroke-linecap="butt"/>
<line x1="1259" y1="589.7" x2="1310" y2="589.7" stroke="#000" stroke-width="2.3" stroke-linecap="butt"/>
<text x="1312.6" y="571" font-size="28.5" text-anchor="middle">*</text>
<text x="1284.6" y="594.5" font-size="28.5" text-anchor="middle">*</text>
<line x1="1213" y1="825.5" x2="1400.9" y2="825.5" stroke="#000" stroke-width="2.5" stroke-linecap="butt"/>
<text transform="translate(-0.5,1012) scale(0.85,1)" x="0" y="0" font-size="50">g</text>
<line x1="19.2" y1="1069.4" x2="1056" y2="1069.4" stroke="#000" stroke-width="6.5" stroke-linecap="butt"/>
<polygon points="1052,1059.9 1074,1069.4 1052,1078.9" fill="#000"/>
<line x1="50" y1="1046.7" x2="50" y2="1093.6" stroke="#000" stroke-width="6.2" stroke-linecap="butt"/>
<text x="50" y="1130" font-size="30.5" text-anchor="middle">-21</text>
<line x1="336.7" y1="1046.7" x2="336.7" y2="1093.6" stroke="#000" stroke-width="6.2" stroke-linecap="butt"/>
<text x="335.5" y="1130" font-size="30.5" text-anchor="middle">-1</text>
<line x1="372" y1="1046.7" x2="372" y2="1093.6" stroke="#000" stroke-width="6.2" stroke-linecap="butt"/>
<text x="372" y="1130" font-size="30.5" text-anchor="middle">0</text>
<line x1="447.5" y1="1046.7" x2="447.5" y2="1093.6" stroke="#000" stroke-width="6.2" stroke-linecap="butt"/>
<text x="447.5" y="1130" font-size="30.5" text-anchor="middle">3</text>
<line x1="540.7" y1="1046.7" x2="540.7" y2="1093.6" stroke="#000" stroke-width="6.2" stroke-linecap="butt"/>
<text x="540.7" y="1130" font-size="30.5" text-anchor="middle">7</text>
<line x1="724.6" y1="1046.7" x2="724.6" y2="1093.6" stroke="#000" stroke-width="6.2" stroke-linecap="butt"/>
<text x="724.6" y="1130" font-size="30.5" text-anchor="middle">14</text>
<line x1="975.2" y1="1046.7" x2="975.2" y2="1093.6" stroke="#000" stroke-width="6.2" stroke-linecap="butt"/>
<text x="975.2" y="1130" font-size="30.5" text-anchor="middle">28</text>
<text x="1061.5" y="1131.7" font-size="30.5" text-anchor="middle">days</text>
<rect x="41.16" y="1009.36" width="20.08" height="20.08" rx="2.5" fill="#0070F0" transform="rotate(45 51.2 1019.4)"/>
<rect x="325.2" y="1007.2" width="26.6" height="26.6" rx="4.5" fill="#92D050"/>
<rect x="433.7" y="1007.2" width="26.6" height="26.6" rx="4.5" fill="#92D050"/>
<rect x="527.6" y="1007.2" width="26.6" height="26.6" rx="4.5" fill="#92D050"/>
<rect x="712.2" y="1007.2" width="26.6" height="26.6" rx="4.5" fill="#92D050"/>
<rect x="962.8" y="1007.2" width="26.6" height="26.6" rx="4.5" fill="#92D050"/>
<polygon points="361.8,1010.4 385.2,1010.4 373.5,1033.6" fill="#FF0000" stroke="#FF0000" stroke-width="4" stroke-linejoin="round"/>
<rect x="169.4" y="1170.1" width="19.8" height="19.8" rx="2.5" fill="#0070F0" transform="rotate(45 179.3 1180)"/>
<polygon points="167,1207.9 190.2,1207.9 178.6,1230.5" fill="#FF0000" stroke="#FF0000" stroke-width="4" stroke-linejoin="round"/>
<rect x="165.3" y="1246.5" width="26.6" height="26.6" rx="4.5" fill="#92D050"/>
<text x="212.5" y="1190" font-size="31">Bilateral ACC of virus injection and optic fibers implanted</text>
<text x="212.5" y="1227" font-size="31">Spared nerve injury model</text>
<text x="212.5" y="1267" font-size="31">Behavioral tests</text>
<text transform="translate(1125,1011.6) scale(0.85,1)" x="0" y="0" font-size="50">h</text>
<path d="M1323.4,1000 C1323.77,1005.65 1326.08,1022.15 1325.6,1033.9 C1325.12,1045.65 1323.3,1058.32 1320.5,1070.5 C1317.7,1082.68 1312.95,1097 1308.8,1107 C1304.65,1117 1301.45,1122.68 1295.6,1130.5 C1289.75,1138.32 1281.5,1145.85 1273.7,1153.9 C1265.9,1161.95 1258.8,1170.75 1248.8,1178.8 C1238.8,1186.85 1219.55,1198.3 1213.7,1202.2" stroke="#595959" stroke-width="5.3" fill="none"/>
<path d="M1341.7,1000 C1341.95,1005.65 1343.57,1022.15 1343.2,1033.9 C1342.83,1045.65 1342.07,1057.57 1339.5,1070.5 C1336.93,1083.43 1331.7,1099.78 1327.8,1111.5 C1323.9,1123.22 1317.92,1133.97 1316.1,1140.8 C1314.28,1147.63 1315.18,1148.37 1316.9,1152.5 C1318.62,1156.63 1322.63,1161.22 1326.4,1165.6 C1330.17,1169.98 1336.33,1174.65 1339.5,1178.8 C1342.67,1182.95 1341.73,1185.87 1345.4,1190.5 C1349.07,1195.13 1356.07,1202.27 1361.5,1206.6 C1366.93,1210.93 1375.25,1214.85 1378,1216.5" stroke="#595959" stroke-width="5.3" fill="none"/>
<path d="M1307.3,1152.5 C1308.03,1155.18 1308.77,1163 1311.7,1168.6 C1314.63,1174.2 1320.98,1182.2 1324.9,1186.1 C1328.82,1190 1330.57,1188.08 1335.2,1192 C1339.83,1195.92 1348.57,1204.72 1352.7,1209.6 C1356.83,1214.48 1356.2,1217.82 1360,1221.3 C1363.8,1224.78 1372.92,1228.97 1375.5,1230.5" stroke="#595959" stroke-width="5.3" fill="none"/>
<path d="M1307.3,1151 C1305.12,1152.47 1299.07,1155.65 1294.2,1159.8 C1289.33,1163.95 1283.47,1169.32 1278.1,1175.9 C1272.73,1182.48 1266.15,1191.25 1262,1199.3 C1257.85,1207.35 1256.37,1213.72 1253.2,1224.2 C1250.03,1234.68 1244.7,1255.87 1243,1262.2" stroke="#595959" stroke-width="5.3" fill="none"/>
<path d="M1264.2,1175.9 C1262.85,1179.07 1259.4,1187.33 1256.1,1194.9 C1252.8,1202.47 1248.18,1212.52 1244.4,1221.3 C1240.62,1230.08 1235.23,1243.22 1233.4,1247.6" stroke="#595959" stroke-width="5.3" fill="none"/>
<path d="M1252,1189.5 C1250,1190.92 1243.68,1195.38 1240,1198 C1236.32,1200.62 1233.8,1202.33 1229.9,1205.2 C1226,1208.07 1218.82,1213.53 1216.6,1215.2" stroke="#595959" stroke-width="5.3" fill="none"/>
<g stroke="rgba(30,150,30,0.78)" stroke-width="3.2" fill="none" stroke-linecap="round"><ellipse cx="1210.5" cy="1180.5" rx="4" ry="7" transform="rotate(-20 1210.5 1180.5)"/><ellipse cx="1201" cy="1188" rx="4" ry="7" transform="rotate(-70 1201 1188)"/><line x1="1211" y1="1186" x2="1222" y2="1219.5"/><line x1="1206" y1="1190" x2="1238" y2="1206.5"/><ellipse cx="1268.5" cy="1248.5" rx="4" ry="7" transform="rotate(-70 1268.5 1248.5)"/><ellipse cx="1260.5" cy="1258.5" rx="4" ry="7" transform="rotate(-20 1260.5 1258.5)"/><line x1="1262" y1="1250" x2="1227" y2="1242.5"/><line x1="1258" y1="1253" x2="1242" y2="1228"/></g>
<g stroke="#2EC0F2" stroke-width="3.4" fill="none" stroke-linecap="round"><path d="M1234.5,1184 C1236,1178 1247,1177 1251.5,1186 C1253,1190 1252.5,1194 1251,1196.5"/><path d="M1245,1207 C1246.5,1201 1257.5,1200 1262,1209 C1263.5,1213 1263,1216 1261.5,1217.5"/></g>
<text x="1355.5" y="1036.8" font-size="30.5">Sciatic</text>
<text x="1355.5" y="1074.2" font-size="30.5">nerve</text>
<text x="1200.5" y="1157" font-size="30.3">CPN</text>
<text x="1352" y="1188.3" font-size="30.8">SN</text>
<text x="1273.5" y="1236.6" font-size="29.5">TN</text>
<line x1="109.3" y1="1407.3" x2="109.3" y2="1662.4" stroke="#000" stroke-width="3.4" stroke-linecap="butt"/>
<line x1="98.8" y1="1660.7" x2="109.3" y2="1660.7" stroke="#000" stroke-width="3.4" stroke-linecap="butt"/>
<text x="95.8" y="1667.54" font-size="19" text-anchor="end">0.0</text>
<line x1="98.8" y1="1576.8" x2="109.3" y2="1576.8" stroke="#000" stroke-width="3.4" stroke-linecap="butt"/>
<text x="95.8" y="1583.64" font-size="19" text-anchor="end">0.5</text>
<line x1="98.8" y1="1492.9" x2="109.3" y2="1492.9" stroke="#000" stroke-width="3.4" stroke-linecap="butt"/>
<text x="95.8" y="1499.74" font-size="19" text-anchor="end">1.0</text>
<line x1="98.8" y1="1409" x2="109.3" y2="1409" stroke="#000" stroke-width="3.4" stroke-linecap="butt"/>
<text x="95.8" y="1415.84" font-size="19" text-anchor="end">1.5</text>
<line x1="98.8" y1="1660.7" x2="500" y2="1660.7" stroke="#000" stroke-width="3.4" stroke-linecap="butt"/>
<line x1="150.8" y1="1660.7" x2="150.8" y2="1671.7" stroke="#000" stroke-width="3.4" stroke-linecap="butt"/>
<text x="150.8" y="1692.6" font-size="19.5" text-anchor="middle">BL</text>
<line x1="227.1" y1="1660.7" x2="227.1" y2="1671.7" stroke="#000" stroke-width="3.4" stroke-linecap="butt"/>
<text x="227.1" y="1692.6" font-size="19.5" text-anchor="middle">3</text>
<line x1="304.1" y1="1660.7" x2="304.1" y2="1671.7" stroke="#000" stroke-width="3.4" stroke-linecap="butt"/>
<text x="304.1" y="1692.6" font-size="19.5" text-anchor="middle">7</text>
<line x1="381" y1="1660.7" x2="381" y2="1671.7" stroke="#000" stroke-width="3.4" stroke-linecap="butt"/>
<text x="381" y="1692.6" font-size="19.5" text-anchor="middle">14</text>
<line x1="457.3" y1="1660.7" x2="457.3" y2="1671.7" stroke="#000" stroke-width="3.4" stroke-linecap="butt"/>
<text x="457.3" y="1692.6" font-size="19.5" text-anchor="middle">28</text>
<text x="304" y="1375" font-size="23.8" text-anchor="middle">Ipsilateral</text>
<text x="304" y="1733.5" font-size="21" text-anchor="middle">Time (days)</text>
<text x="32.5" y="1534.6" font-size="21.2" text-anchor="middle" transform="rotate(-90 32.5 1534.6)">Mechanical withdrawal</text>
<text x="58" y="1534.6" font-size="21.2" text-anchor="middle" transform="rotate(-90 58 1534.6)">threshold (g)</text>
<text transform="translate(0.5,1380.7) scale(0.85,1)" x="0" y="0" font-size="50">i</text>
<rect x="145.4" y="1489.2" width="7.4" height="7.4" fill="rgba(255,20,20,0.4)"/>
<rect x="156.9" y="1489.2" width="7.4" height="7.4" fill="rgba(255,20,20,0.4)"/>
<rect x="133.6" y="1556.32" width="7.4" height="7.4" fill="rgba(255,20,20,0.4)"/>
<rect x="145.4" y="1556.32" width="7.4" height="7.4" fill="rgba(255,20,20,0.4)"/>
<rect x="156.9" y="1556.32" width="7.4" height="7.4" fill="rgba(255,20,20,0.4)"/>
<rect x="133.6" y="1589.88" width="7.4" height="7.4" fill="rgba(255,20,20,0.4)"/>
<rect x="145.4" y="1589.88" width="7.4" height="7.4" fill="rgba(255,20,20,0.4)"/>
<rect x="156.9" y="1589.88" width="7.4" height="7.4" fill="rgba(255,20,20,0.4)"/>
<rect x="211.1" y="1630.15" width="7.4" height="7.4" fill="rgba(255,20,20,0.4)"/>
<rect x="222.9" y="1630.15" width="7.4" height="7.4" fill="rgba(255,20,20,0.4)"/>
<rect x="211.1" y="1650.96" width="7.4" height="7.4" fill="rgba(255,20,20,0.4)"/>
<rect x="222.9" y="1650.96" width="7.4" height="7.4" fill="rgba(255,20,20,0.4)"/>
<rect x="234" y="1650.96" width="7.4" height="7.4" fill="rgba(255,20,20,0.4)"/>
<rect x="239" y="1644.75" width="7.4" height="7.4" fill="rgba(255,20,20,0.4)"/>
<rect x="226.4" y="1653.64" width="7.4" height="7.4" fill="rgba(255,20,20,0.4)"/>
<rect x="288.4" y="1650.29" width="7.4" height="7.4" fill="rgba(255,20,20,0.4)"/>
<rect x="300.4" y="1653.64" width="7.4" height="7.4" fill="rgba(255,20,20,0.4)"/>
<rect x="312.4" y="1650.29" width="7.4" height="7.4" fill="rgba(255,20,20,0.4)"/>
<rect x="315.4" y="1653.64" width="7.4" height="7.4" fill="rgba(255,20,20,0.4)"/>
<rect x="295.4" y="1657" width="7.4" height="7.4" fill="rgba(255,20,20,0.4)"/>
<rect x="306.4" y="1657" width="7.4" height="7.4" fill="rgba(255,20,20,0.4)"/>
<rect x="365.3" y="1650.29" width="7.4" height="7.4" fill="rgba(255,20,20,0.4)"/>
<rect x="377.3" y="1653.64" width="7.4" height="7.4" fill="rgba(255,20,20,0.4)"/>
<rect x="389.3" y="1655.32" width="7.4" height="7.4" fill="rgba(255,20,20,0.4)"/>
<rect x="392.3" y="1653.64" width="7.4" height="7.4" fill="rgba(255,20,20,0.4)"/>
<rect x="372.3" y="1657" width="7.4" height="7.4" fill="rgba(255,20,20,0.4)"/>
<rect x="383.3" y="1657" width="7.4" height="7.4" fill="rgba(255,20,20,0.4)"/>
<rect x="441.6" y="1650.29" width="7.4" height="7.4" fill="rgba(255,20,20,0.4)"/>
<rect x="453.6" y="1653.64" width="7.4" height="7.4" fill="rgba(255,20,20,0.4)"/>
<rect x="465.6" y="1655.32" width="7.4" height="7.4" fill="rgba(255,20,20,0.4)"/>
<rect x="468.6" y="1653.64" width="7.4" height="7.4" fill="rgba(255,20,20,0.4)"/>
<rect x="448.6" y="1657" width="7.4" height="7.4" fill="rgba(255,20,20,0.4)"/>
<rect x="459.6" y="1657" width="7.4" height="7.4" fill="rgba(255,20,20,0.4)"/>
<circle cx="149.1" cy="1492.9" r="3.7" fill="rgba(0,0,0,0.48)"/>
<circle cx="160.6" cy="1492.9" r="3.7" fill="rgba(0,0,0,0.48)"/>
<circle cx="137.3" cy="1560.02" r="3.7" fill="rgba(0,0,0,0.48)"/>
<circle cx="149.1" cy="1560.02" r="3.7" fill="rgba(0,0,0,0.48)"/>
<circle cx="160.6" cy="1560.02" r="3.7" fill="rgba(0,0,0,0.48)"/>
<circle cx="149.1" cy="1593.58" r="3.7" fill="rgba(0,0,0,0.48)"/>
<circle cx="160.6" cy="1593.58" r="3.7" fill="rgba(0,0,0,0.48)"/>
<circle cx="226.6" cy="1492.9" r="3.7" fill="rgba(0,0,0,0.48)"/>
<circle cx="237.7" cy="1492.9" r="3.7" fill="rgba(0,0,0,0.48)"/>
<circle cx="214.8" cy="1560.02" r="3.7" fill="rgba(0,0,0,0.48)"/>
<circle cx="226.6" cy="1560.02" r="3.7" fill="rgba(0,0,0,0.48)"/>
<circle cx="237.7" cy="1560.02" r="3.7" fill="rgba(0,0,0,0.48)"/>
<circle cx="214.8" cy="1593.58" r="3.7" fill="rgba(0,0,0,0.48)"/>
<circle cx="226.6" cy="1593.58" r="3.7" fill="rgba(0,0,0,0.48)"/>
<circle cx="237.7" cy="1593.58" r="3.7" fill="rgba(0,0,0,0.48)"/>
<circle cx="304.1" cy="1492.9" r="3.7" fill="rgba(0,0,0,0.48)"/>
<circle cx="292.3" cy="1560.02" r="3.7" fill="rgba(0,0,0,0.48)"/>
<circle cx="304.1" cy="1560.02" r="3.7" fill="rgba(0,0,0,0.48)"/>
<circle cx="315.7" cy="1560.02" r="3.7" fill="rgba(0,0,0,0.48)"/>
<circle cx="292.3" cy="1593.58" r="3.7" fill="rgba(0,0,0,0.48)"/>
<circle cx="304.1" cy="1593.58" r="3.7" fill="rgba(0,0,0,0.48)"/>
<circle cx="315.7" cy="1593.58" r="3.7" fill="rgba(0,0,0,0.48)"/>
<circle cx="381.5" cy="1492.9" r="3.7" fill="rgba(0,0,0,0.48)"/>
<circle cx="369.9" cy="1560.02" r="3.7" fill="rgba(0,0,0,0.48)"/>
<circle cx="376.1" cy="1560.02" r="3.7" fill="rgba(0,0,0,0.48)"/>
<circle cx="381.5" cy="1560.02" r="3.7" fill="rgba(0,0,0,0.48)"/>
<circle cx="387.2" cy="1560.02" r="3.7" fill="rgba(0,0,0,0.48)"/>
<circle cx="393.3" cy="1560.02" r="3.7" fill="rgba(0,0,0,0.48)"/>
<circle cx="381.5" cy="1593.58" r="3.7" fill="rgba(0,0,0,0.48)"/>
<circle cx="459.3" cy="1492.9" r="3.7" fill="rgba(0,0,0,0.48)"/>
<circle cx="447.5" cy="1560.02" r="3.7" fill="rgba(0,0,0,0.48)"/>
<circle cx="470.1" cy="1560.02" r="3.7" fill="rgba(0,0,0,0.48)"/>
<circle cx="447.5" cy="1593.58" r="3.7" fill="rgba(0,0,0,0.48)"/>
<circle cx="459.3" cy="1593.58" r="3.7" fill="rgba(0,0,0,0.48)"/>
<circle cx="464.7" cy="1593.58" r="3.7" fill="rgba(0,0,0,0.48)"/>
<circle cx="470.6" cy="1593.58" r="3.7" fill="rgba(0,0,0,0.48)"/>
<line x1="150.8" y1="1541.39" x2="150.8" y2="1570.42" stroke="#D7191C" stroke-width="2.5" stroke-linecap="butt"/>
<line x1="145.55" y1="1541.39" x2="156.05" y2="1541.39" stroke="#D7191C" stroke-width="2.5" stroke-linecap="butt"/>
<line x1="145.55" y1="1570.42" x2="156.05" y2="1570.42" stroke="#D7191C" stroke-width="2.5" stroke-linecap="butt"/>
<line x1="227.1" y1="1645.6" x2="227.1" y2="1652.31" stroke="#D7191C" stroke-width="2.5" stroke-linecap="butt"/>
<line x1="221.85" y1="1645.6" x2="232.35" y2="1645.6" stroke="#D7191C" stroke-width="2.5" stroke-linecap="butt"/>
<line x1="221.85" y1="1652.31" x2="232.35" y2="1652.31" stroke="#D7191C" stroke-width="2.5" stroke-linecap="butt"/>
<polyline points="150.8,1557.34 227.1,1649.12 304.1,1658.35 381,1658.69 457.3,1658.69" stroke="#D7191C" stroke-width="4" fill="none" stroke-linejoin="round"/>
<rect x="146.2" y="1552.74" width="9.2" height="9.2" fill="none" stroke="#D7191C" stroke-width="2.5"/>
<rect x="222.5" y="1644.52" width="9.2" height="9.2" fill="none" stroke="#D7191C" stroke-width="2.5"/>
<rect x="299.5" y="1653.75" width="9.2" height="9.2" fill="none" stroke="#D7191C" stroke-width="2.5"/>
<rect x="376.4" y="1654.09" width="9.2" height="9.2" fill="none" stroke="#D7191C" stroke-width="2.5"/>
<rect x="452.7" y="1654.09" width="9.2" height="9.2" fill="none" stroke="#D7191C" stroke-width="2.5"/>
<line x1="150.8" y1="1537.7" x2="150.8" y2="1566.06" stroke="#000" stroke-width="2.5" stroke-linecap="butt"/>
<line x1="145.55" y1="1537.7" x2="156.05" y2="1537.7" stroke="#000" stroke-width="2.5" stroke-linecap="butt"/>
<line x1="145.55" y1="1566.06" x2="156.05" y2="1566.06" stroke="#000" stroke-width="2.5" stroke-linecap="butt"/>
<line x1="227.1" y1="1540.89" x2="227.1" y2="1570.93" stroke="#000" stroke-width="2.5" stroke-linecap="butt"/>
<line x1="221.85" y1="1540.89" x2="232.35" y2="1540.89" stroke="#000" stroke-width="2.5" stroke-linecap="butt"/>
<line x1="221.85" y1="1570.93" x2="232.35" y2="1570.93" stroke="#000" stroke-width="2.5" stroke-linecap="butt"/>
<line x1="304.1" y1="1551.97" x2="304.1" y2="1576.63" stroke="#000" stroke-width="2.5" stroke-linecap="butt"/>
<line x1="298.85" y1="1551.97" x2="309.35" y2="1551.97" stroke="#000" stroke-width="2.5" stroke-linecap="butt"/>
<line x1="298.85" y1="1576.63" x2="309.35" y2="1576.63" stroke="#000" stroke-width="2.5" stroke-linecap="butt"/>
<line x1="381" y1="1545.59" x2="381" y2="1566.73" stroke="#000" stroke-width="2.5" stroke-linecap="butt"/>
<line x1="375.75" y1="1545.59" x2="386.25" y2="1545.59" stroke="#000" stroke-width="2.5" stroke-linecap="butt"/>
<line x1="375.75" y1="1566.73" x2="386.25" y2="1566.73" stroke="#000" stroke-width="2.5" stroke-linecap="butt"/>
<line x1="457.3" y1="1556.16" x2="457.3" y2="1582" stroke="#000" stroke-width="2.5" stroke-linecap="butt"/>
<line x1="452.05" y1="1556.16" x2="462.55" y2="1556.16" stroke="#000" stroke-width="2.5" stroke-linecap="butt"/>
<line x1="452.05" y1="1582" x2="462.55" y2="1582" stroke="#000" stroke-width="2.5" stroke-linecap="butt"/>
<polyline points="150.8,1551.97 227.1,1556.16 304.1,1564.89 381,1556.16 457.3,1568.91" stroke="#000" stroke-width="4" fill="none" stroke-linejoin="round"/>
<circle cx="150.8" cy="1551.97" r="4.6" fill="none" stroke="#000" stroke-width="2.5"/>
<circle cx="227.1" cy="1556.16" r="4.6" fill="none" stroke="#000" stroke-width="2.5"/>
<circle cx="304.1" cy="1564.89" r="4.6" fill="none" stroke="#000" stroke-width="2.5"/>
<circle cx="381" cy="1556.16" r="4.6" fill="none" stroke="#000" stroke-width="2.5"/>
<circle cx="457.3" cy="1568.91" r="4.6" fill="none" stroke="#000" stroke-width="2.5"/>
<text x="234.5" y="1643.6" font-size="34" text-anchor="middle">***</text>
<text x="304.6" y="1655.4" font-size="34" text-anchor="middle">***</text>
<text x="381.4" y="1655.4" font-size="34" text-anchor="middle">***</text>
<text x="457.8" y="1656.7" font-size="34" text-anchor="middle">***</text>
<line x1="136.7" y1="1414.7" x2="162.6" y2="1414.7" stroke="#000" stroke-width="4" stroke-linecap="butt"/>
<circle cx="149.65" cy="1414.7" r="4.6" fill="none" stroke="#000" stroke-width="2.5"/>
<text x="179" y="1421" font-size="18">Sham</text>
<line x1="136.7" y1="1439.5" x2="162.6" y2="1439.5" stroke="#D7191C" stroke-width="4" stroke-linecap="butt"/>
<rect x="145.05" y="1434.9" width="9.2" height="9.2" fill="none" stroke="#D7191C" stroke-width="2.5"/>
<text x="179" y="1445.8" font-size="18">Nerve injury</text>
<line x1="619.4" y1="1411.5" x2="619.4" y2="1667.1" stroke="#000" stroke-width="2.6" stroke-linecap="butt"/>
<line x1="608.9" y1="1665.8" x2="619.4" y2="1665.8" stroke="#000" stroke-width="2.6" stroke-linecap="butt"/>
<text x="605.9" y="1672.64" font-size="19" text-anchor="end">0.0</text>
<line x1="608.9" y1="1615.2" x2="619.4" y2="1615.2" stroke="#000" stroke-width="2.6" stroke-linecap="butt"/>
<text x="605.9" y="1622.04" font-size="19" text-anchor="end">0.2</text>
<line x1="608.9" y1="1564.6" x2="619.4" y2="1564.6" stroke="#000" stroke-width="2.6" stroke-linecap="butt"/>
<text x="605.9" y="1571.44" font-size="19" text-anchor="end">0.4</text>
<line x1="608.9" y1="1514" x2="619.4" y2="1514" stroke="#000" stroke-width="2.6" stroke-linecap="butt"/>
<text x="605.9" y="1520.84" font-size="19" text-anchor="end">0.6</text>
<line x1="608.9" y1="1463.4" x2="619.4" y2="1463.4" stroke="#000" stroke-width="2.6" stroke-linecap="butt"/>
<text x="605.9" y="1470.24" font-size="19" text-anchor="end">0.8</text>
<line x1="608.9" y1="1412.8" x2="619.4" y2="1412.8" stroke="#000" stroke-width="2.6" stroke-linecap="butt"/>
<text x="605.9" y="1419.64" font-size="19" text-anchor="end">1.0</text>
<line x1="608.9" y1="1665.8" x2="998" y2="1665.8" stroke="#000" stroke-width="2.6" stroke-linecap="butt"/>
<line x1="666.3" y1="1665.8" x2="666.3" y2="1676.8" stroke="#000" stroke-width="2.6" stroke-linecap="butt"/>
<text x="666.3" y="1696" font-size="19.5" text-anchor="middle">BL</text>
<line x1="736.9" y1="1665.8" x2="736.9" y2="1676.8" stroke="#000" stroke-width="2.6" stroke-linecap="butt"/>
<text x="736.9" y="1696" font-size="19.5" text-anchor="middle">3</text>
<line x1="807.8" y1="1665.8" x2="807.8" y2="1676.8" stroke="#000" stroke-width="2.6" stroke-linecap="butt"/>
<text x="807.8" y="1696" font-size="19.5" text-anchor="middle">7</text>
<line x1="879" y1="1665.8" x2="879" y2="1676.8" stroke="#000" stroke-width="2.6" stroke-linecap="butt"/>
<text x="879" y="1696" font-size="19.5" text-anchor="middle">14</text>
<line x1="949.6" y1="1665.8" x2="949.6" y2="1676.8" stroke="#000" stroke-width="2.6" stroke-linecap="butt"/>
<text x="949.6" y="1696" font-size="19.5" text-anchor="middle">28</text>
<text x="808.8" y="1379.2" font-size="23.8" text-anchor="middle">Ipsilateral</text>
<text x="808.8" y="1735" font-size="21" text-anchor="middle">Time (days)</text>
<text x="543.5" y="1539.5" font-size="21.2" text-anchor="middle" transform="rotate(-90 543.5 1539.5)">Mechanical withdrawal</text>
<text x="569" y="1539.5" font-size="21.2" text-anchor="middle" transform="rotate(-90 569 1539.5)">threshold (g)</text>
<text transform="translate(503,1380) scale(0.85,1)" x="0" y="0" font-size="50">j</text>
<rect x="653.2" y="1409.1" width="7.4" height="7.4" fill="rgba(255,20,20,0.4)"/>
<rect x="664.9" y="1409.1" width="7.4" height="7.4" fill="rgba(255,20,20,0.4)"/>
<rect x="641.8" y="1510.3" width="7.4" height="7.4" fill="rgba(255,20,20,0.4)"/>
<rect x="653.2" y="1510.3" width="7.4" height="7.4" fill="rgba(255,20,20,0.4)"/>
<rect x="664.9" y="1510.3" width="7.4" height="7.4" fill="rgba(255,20,20,0.4)"/>
<rect x="641.8" y="1560.9" width="7.4" height="7.4" fill="rgba(255,20,20,0.4)"/>
<rect x="653.2" y="1560.9" width="7.4" height="7.4" fill="rgba(255,20,20,0.4)"/>
<rect x="664.9" y="1560.9" width="7.4" height="7.4" fill="rgba(255,20,20,0.4)"/>
<rect x="729.5" y="1621.62" width="7.4" height="7.4" fill="rgba(255,20,20,0.4)"/>
<rect x="741.2" y="1621.62" width="7.4" height="7.4" fill="rgba(255,20,20,0.4)"/>
<rect x="721.2" y="1651.98" width="7.4" height="7.4" fill="rgba(255,20,20,0.4)"/>
<rect x="729.5" y="1651.98" width="7.4" height="7.4" fill="rgba(255,20,20,0.4)"/>
<rect x="737.2" y="1651.98" width="7.4" height="7.4" fill="rgba(255,20,20,0.4)"/>
<rect x="741.2" y="1657.04" width="7.4" height="7.4" fill="rgba(255,20,20,0.4)"/>
<rect x="792.1" y="1651.98" width="7.4" height="7.4" fill="rgba(255,20,20,0.4)"/>
<rect x="800.1" y="1657.04" width="7.4" height="7.4" fill="rgba(255,20,20,0.4)"/>
<rect x="808.1" y="1657.04" width="7.4" height="7.4" fill="rgba(255,20,20,0.4)"/>
<rect x="816.1" y="1651.98" width="7.4" height="7.4" fill="rgba(255,20,20,0.4)"/>
<rect x="804.1" y="1662.1" width="7.4" height="7.4" fill="rgba(255,20,20,0.4)"/>
<rect x="863.3" y="1654.51" width="7.4" height="7.4" fill="rgba(255,20,20,0.4)"/>
<rect x="871.3" y="1657.04" width="7.4" height="7.4" fill="rgba(255,20,20,0.4)"/>
<rect x="879.3" y="1657.04" width="7.4" height="7.4" fill="rgba(255,20,20,0.4)"/>
<rect x="887.3" y="1659.57" width="7.4" height="7.4" fill="rgba(255,20,20,0.4)"/>
<rect x="875.3" y="1662.1" width="7.4" height="7.4" fill="rgba(255,20,20,0.4)"/>
<rect x="933.9" y="1651.98" width="7.4" height="7.4" fill="rgba(255,20,20,0.4)"/>
<rect x="941.9" y="1657.04" width="7.4" height="7.4" fill="rgba(255,20,20,0.4)"/>
<rect x="949.9" y="1657.04" width="7.4" height="7.4" fill="rgba(255,20,20,0.4)"/>
<rect x="957.9" y="1659.57" width="7.4" height="7.4" fill="rgba(255,20,20,0.4)"/>
<rect x="945.9" y="1662.1" width="7.4" height="7.4" fill="rgba(255,20,20,0.4)"/>
<rect x="783.4" y="1657.04" width="7.4" height="7.4" fill="rgba(255,20,20,0.4)"/>
<rect x="792.43" y="1657.04" width="7.4" height="7.4" fill="rgba(255,20,20,0.4)"/>
<rect x="799.8" y="1662.1" width="7.4" height="7.4" fill="rgba(255,20,20,0.4)"/>
<rect x="809.89" y="1662.1" width="7.4" height="7.4" fill="rgba(255,20,20,0.4)"/>
<rect x="815.78" y="1662.1" width="7.4" height="7.4" fill="rgba(255,20,20,0.4)"/>
<rect x="822.82" y="1657.04" width="7.4" height="7.4" fill="rgba(255,20,20,0.4)"/>
<rect x="830.36" y="1657.04" width="7.4" height="7.4" fill="rgba(255,20,20,0.4)"/>
<rect x="856.99" y="1651.98" width="7.4" height="7.4" fill="rgba(255,20,20,0.4)"/>
<rect x="862.28" y="1651.98" width="7.4" height="7.4" fill="rgba(255,20,20,0.4)"/>
<rect x="870.45" y="1662.1" width="7.4" height="7.4" fill="rgba(255,20,20,0.4)"/>
<rect x="878.99" y="1662.1" width="7.4" height="7.4" fill="rgba(255,20,20,0.4)"/>
<rect x="888.57" y="1651.98" width="7.4" height="7.4" fill="rgba(255,20,20,0.4)"/>
<rect x="896.66" y="1651.98" width="7.4" height="7.4" fill="rgba(255,20,20,0.4)"/>
<rect x="901.89" y="1662.1" width="7.4" height="7.4" fill="rgba(255,20,20,0.4)"/>
<rect x="925.29" y="1662.1" width="7.4" height="7.4" fill="rgba(255,20,20,0.4)"/>
<rect x="932.42" y="1657.04" width="7.4" height="7.4" fill="rgba(255,20,20,0.4)"/>
<rect x="941.01" y="1657.04" width="7.4" height="7.4" fill="rgba(255,20,20,0.4)"/>
<rect x="950.63" y="1662.1" width="7.4" height="7.4" fill="rgba(255,20,20,0.4)"/>
<rect x="956.83" y="1662.1" width="7.4" height="7.4" fill="rgba(255,20,20,0.4)"/>
<rect x="966.04" y="1651.98" width="7.4" height="7.4" fill="rgba(255,20,20,0.4)"/>
<rect x="973.7" y="1662.1" width="7.4" height="7.4" fill="rgba(255,20,20,0.4)"/>
<polygon points="645.5,1408.8 641.06,1416.8 649.94,1416.8" fill="rgba(30,180,232,0.6)"/>
<polygon points="656.9,1408.8 652.46,1416.8 661.34,1416.8" fill="rgba(30,180,232,0.6)"/>
<polygon points="668.6,1408.8 664.16,1416.8 673.04,1416.8" fill="rgba(30,180,232,0.6)"/>
<polygon points="664.3,1510 659.86,1518 668.74,1518" fill="rgba(30,180,232,0.6)"/>
<polygon points="716.9,1651.68 712.46,1659.68 721.34,1659.68" fill="rgba(30,180,232,0.6)"/>
<polygon points="722.9,1661.8 718.46,1669.8 727.34,1669.8" fill="rgba(30,180,232,0.6)"/>
<polygon points="744.9,1661.8 740.46,1669.8 749.34,1669.8" fill="rgba(30,180,232,0.6)"/>
<polygon points="795.8,1651.68 791.36,1659.68 800.24,1659.68" fill="rgba(30,180,232,0.6)"/>
<polygon points="811.8,1651.68 807.36,1659.68 816.24,1659.68" fill="rgba(30,180,232,0.6)"/>
<polygon points="885,1651.68 880.56,1659.68 889.44,1659.68" fill="rgba(30,180,232,0.6)"/>
<polygon points="871,1661.8 866.56,1669.8 875.44,1669.8" fill="rgba(30,180,232,0.6)"/>
<polygon points="945.6,1661.8 941.16,1669.8 950.04,1669.8" fill="rgba(30,180,232,0.6)"/>
<polygon points="788.02,1656.74 783.58,1664.74 792.46,1664.74" fill="rgba(30,180,232,0.6)"/>
<polygon points="794.24,1651.68 789.8,1659.68 798.68,1659.68" fill="rgba(30,180,232,0.6)"/>
<polygon points="813.95,1656.74 809.51,1664.74 818.39,1664.74" fill="rgba(30,180,232,0.6)"/>
<polygon points="832.68,1651.68 828.24,1659.68 837.12,1659.68" fill="rgba(30,180,232,0.6)"/>
<polygon points="874.05,1656.74 869.61,1664.74 878.49,1664.74" fill="rgba(30,180,232,0.6)"/>
<polygon points="892.78,1661.8 888.34,1669.8 897.22,1669.8" fill="rgba(30,180,232,0.6)"/>
<polygon points="900.39,1656.74 895.95,1664.74 904.83,1664.74" fill="rgba(30,180,232,0.6)"/>
<polygon points="926.95,1656.74 922.51,1664.74 931.39,1664.74" fill="rgba(30,180,232,0.6)"/>
<polygon points="937.3,1651.68 932.86,1659.68 941.74,1659.68" fill="rgba(30,180,232,0.6)"/>
<polygon points="945.09,1656.74 940.65,1664.74 949.53,1664.74" fill="rgba(30,180,232,0.6)"/>
<polygon points="951.51,1651.68 947.07,1659.68 955.95,1659.68" fill="rgba(30,180,232,0.6)"/>
<polygon points="958.62,1656.74 954.18,1664.74 963.06,1664.74" fill="rgba(30,180,232,0.6)"/>
<polygon points="645.5,1518 641.06,1510 649.94,1510" fill="rgba(60,40,230,0.45)"/>
<polygon points="656.9,1518 652.46,1510 661.34,1510" fill="rgba(60,40,230,0.45)"/>
<polygon points="668.6,1518 664.16,1510 673.04,1510" fill="rgba(60,40,230,0.45)"/>
<polygon points="645.5,1568.6 641.06,1560.6 649.94,1560.6" fill="rgba(60,40,230,0.45)"/>
<polygon points="656.9,1568.6 652.46,1560.6 661.34,1560.6" fill="rgba(60,40,230,0.45)"/>
<polygon points="668.6,1568.6 664.16,1560.6 673.04,1560.6" fill="rgba(60,40,230,0.45)"/>
<polygon points="656.9,1629.32 652.46,1621.32 661.34,1621.32" fill="rgba(60,40,230,0.45)"/>
<polygon points="656.9,1652.09 652.46,1644.09 661.34,1644.09" fill="rgba(60,40,230,0.45)"/>
<polygon points="733.2,1629.32 728.76,1621.32 737.64,1621.32" fill="rgba(60,40,230,0.45)"/>
<polygon points="724.9,1659.68 720.46,1651.68 729.34,1651.68" fill="rgba(60,40,230,0.45)"/>
<polygon points="733.2,1669.8 728.76,1661.8 737.64,1661.8" fill="rgba(60,40,230,0.45)"/>
<polygon points="740.9,1659.68 736.46,1651.68 745.34,1651.68" fill="rgba(60,40,230,0.45)"/>
<polygon points="799.8,1659.68 795.36,1651.68 804.24,1651.68" fill="rgba(60,40,230,0.45)"/>
<polygon points="807.8,1664.74 803.36,1656.74 812.24,1656.74" fill="rgba(60,40,230,0.45)"/>
<polygon points="815.8,1659.68 811.36,1651.68 820.24,1651.68" fill="rgba(60,40,230,0.45)"/>
<polygon points="871,1662.21 866.56,1654.21 875.44,1654.21" fill="rgba(60,40,230,0.45)"/>
<polygon points="883,1664.74 878.56,1656.74 887.44,1656.74" fill="rgba(60,40,230,0.45)"/>
<polygon points="943.6,1664.74 939.16,1656.74 948.04,1656.74" fill="rgba(60,40,230,0.45)"/>
<polygon points="955.6,1667.27 951.16,1659.27 960.04,1659.27" fill="rgba(60,40,230,0.45)"/>
<polygon points="787.17,1669.8 782.73,1661.8 791.61,1661.8" fill="rgba(60,40,230,0.45)"/>
<polygon points="793.02,1664.74 788.58,1656.74 797.46,1656.74" fill="rgba(60,40,230,0.45)"/>
<polygon points="806.48,1662.21 802.04,1654.21 810.92,1654.21" fill="rgba(60,40,230,0.45)"/>
<polygon points="809.1,1669.8 804.66,1661.8 813.54,1661.8" fill="rgba(60,40,230,0.45)"/>
<polygon points="820.23,1662.21 815.79,1654.21 824.67,1654.21" fill="rgba(60,40,230,0.45)"/>
<polygon points="827.03,1662.21 822.59,1654.21 831.47,1654.21" fill="rgba(60,40,230,0.45)"/>
<polygon points="833.78,1662.21 829.34,1654.21 838.22,1654.21" fill="rgba(60,40,230,0.45)"/>
<polygon points="857.8,1669.8 853.36,1661.8 862.24,1661.8" fill="rgba(60,40,230,0.45)"/>
<polygon points="867.15,1664.74 862.71,1656.74 871.59,1656.74" fill="rgba(60,40,230,0.45)"/>
<polygon points="872.71,1664.74 868.27,1656.74 877.15,1656.74" fill="rgba(60,40,230,0.45)"/>
<polygon points="884.59,1662.21 880.15,1654.21 889.03,1654.21" fill="rgba(60,40,230,0.45)"/>
<polygon points="892.17,1662.21 887.73,1654.21 896.61,1654.21" fill="rgba(60,40,230,0.45)"/>
<polygon points="898.84,1662.21 894.4,1654.21 903.28,1654.21" fill="rgba(60,40,230,0.45)"/>
<polygon points="903.71,1664.74 899.27,1656.74 908.15,1656.74" fill="rgba(60,40,230,0.45)"/>
<polygon points="928.73,1662.21 924.29,1654.21 933.17,1654.21" fill="rgba(60,40,230,0.45)"/>
<polygon points="936.99,1664.74 932.55,1656.74 941.43,1656.74" fill="rgba(60,40,230,0.45)"/>
<polygon points="947.52,1662.21 943.08,1654.21 951.96,1654.21" fill="rgba(60,40,230,0.45)"/>
<polygon points="956.35,1669.8 951.91,1661.8 960.79,1661.8" fill="rgba(60,40,230,0.45)"/>
<polygon points="963.59,1669.8 959.15,1661.8 968.03,1661.8" fill="rgba(60,40,230,0.45)"/>
<polygon points="972.32,1662.21 967.88,1654.21 976.76,1654.21" fill="rgba(60,40,230,0.45)"/>
<polygon points="975.34,1662.21 970.9,1654.21 979.78,1654.21" fill="rgba(60,40,230,0.45)"/>
<line x1="666.3" y1="1553.47" x2="666.3" y2="1586.86" stroke="#0000DD" stroke-width="2.5" stroke-linecap="butt"/>
<line x1="661.05" y1="1553.47" x2="671.55" y2="1553.47" stroke="#0000DD" stroke-width="2.5" stroke-linecap="butt"/>
<line x1="661.05" y1="1586.86" x2="671.55" y2="1586.86" stroke="#0000DD" stroke-width="2.5" stroke-linecap="butt"/>
<polyline points="666.3,1568.9 736.9,1653.15 807.8,1660.74 879,1663.27 949.6,1663.27" stroke="#0000DD" stroke-width="4.6" fill="none" stroke-linejoin="round"/>
<polygon points="666.3,1574.55 660.8,1564.65 671.8,1564.65" fill="none" stroke="#0000DD" stroke-width="2.5" stroke-linejoin="miter" stroke-linejoin="round"/>
<polygon points="736.9,1658.8 731.4,1648.9 742.4,1648.9" fill="none" stroke="#0000DD" stroke-width="2.5" stroke-linejoin="miter" stroke-linejoin="round"/>
<polygon points="807.8,1666.39 802.3,1656.49 813.3,1656.49" fill="none" stroke="#0000DD" stroke-width="2.5" stroke-linejoin="miter" stroke-linejoin="round"/>
<polygon points="879,1668.92 873.5,1659.02 884.5,1659.02" fill="none" stroke="#0000DD" stroke-width="2.5" stroke-linejoin="miter" stroke-linejoin="round"/>
<polygon points="949.6,1668.92 944.1,1659.02 955.1,1659.02" fill="none" stroke="#0000DD" stroke-width="2.5" stroke-linejoin="miter" stroke-linejoin="round"/>
<line x1="666.3" y1="1445.18" x2="666.3" y2="1483.64" stroke="#1FB4E8" stroke-width="2.5" stroke-linecap="butt"/>
<line x1="661.05" y1="1445.18" x2="671.55" y2="1445.18" stroke="#1FB4E8" stroke-width="2.5" stroke-linecap="butt"/>
<line x1="661.05" y1="1483.64" x2="671.55" y2="1483.64" stroke="#1FB4E8" stroke-width="2.5" stroke-linecap="butt"/>
<polyline points="666.3,1464.41 736.9,1655.68 807.8,1660.74 879,1663.27 949.6,1663.27" stroke="#1FB4E8" stroke-width="4" fill="none" stroke-linejoin="round"/>
<polygon points="666.3,1458.76 660.8,1468.66 671.8,1468.66" fill="none" stroke="#1FB4E8" stroke-width="2.5" stroke-linejoin="miter" stroke-linejoin="round"/>
<polygon points="736.9,1650.03 731.4,1659.93 742.4,1659.93" fill="none" stroke="#1FB4E8" stroke-width="2.5" stroke-linejoin="miter" stroke-linejoin="round"/>
<polygon points="807.8,1655.09 802.3,1664.99 813.3,1664.99" fill="none" stroke="#1FB4E8" stroke-width="2.5" stroke-linejoin="miter" stroke-linejoin="round"/>
<polygon points="879,1657.62 873.5,1667.52 884.5,1667.52" fill="none" stroke="#1FB4E8" stroke-width="2.5" stroke-linejoin="miter" stroke-linejoin="round"/>
<polygon points="949.6,1657.62 944.1,1667.52 955.1,1667.52" fill="none" stroke="#1FB4E8" stroke-width="2.5" stroke-linejoin="miter" stroke-linejoin="round"/>
<line x1="666.3" y1="1486.17" x2="666.3" y2="1530.44" stroke="#D7191C" stroke-width="2.5" stroke-linecap="butt"/>
<line x1="661.05" y1="1486.17" x2="671.55" y2="1486.17" stroke="#D7191C" stroke-width="2.5" stroke-linecap="butt"/>
<line x1="661.05" y1="1530.44" x2="671.55" y2="1530.44" stroke="#D7191C" stroke-width="2.5" stroke-linecap="butt"/>
<polyline points="666.3,1508.18 736.9,1649.36 807.8,1659.47 879,1662 949.6,1662.76" stroke="#D7191C" stroke-width="4" fill="none" stroke-linejoin="round"/>
<rect x="661.7" y="1503.58" width="9.2" height="9.2" fill="none" stroke="#D7191C" stroke-width="2.5"/>
<rect x="732.3" y="1644.76" width="9.2" height="9.2" fill="none" stroke="#D7191C" stroke-width="2.5"/>
<rect x="803.2" y="1654.88" width="9.2" height="9.2" fill="none" stroke="#D7191C" stroke-width="2.5"/>
<rect x="874.4" y="1657.4" width="9.2" height="9.2" fill="none" stroke="#D7191C" stroke-width="2.5"/>
<rect x="945" y="1658.16" width="9.2" height="9.2" fill="none" stroke="#D7191C" stroke-width="2.5"/>
<text x="666.5" y="1621" font-size="34" text-anchor="middle">*</text>
<line x1="700.2" y1="1407.9" x2="727.7" y2="1407.9" stroke="#D7191C" stroke-width="4" stroke-linecap="butt"/>
<rect x="709.35" y="1403.3" width="9.2" height="9.2" fill="none" stroke="#D7191C" stroke-width="2.5"/>
<text x="742.6" y="1414.2" font-size="18">Nerve injury</text>
<line x1="700.2" y1="1431.9" x2="727.7" y2="1431.9" stroke="#1FB4E8" stroke-width="4" stroke-linecap="butt"/>
<polygon points="713.95,1426.25 708.45,1436.15 719.45,1436.15" fill="none" stroke="#1FB4E8" stroke-width="2.5" stroke-linejoin="miter" stroke-linejoin="round"/>
<text x="742.6" y="1438.2" font-size="18">Nerve injury+Left ACC-ChR2</text>
<line x1="700.2" y1="1455.7" x2="727.7" y2="1455.7" stroke="#0000DD" stroke-width="4" stroke-linecap="butt"/>
<polygon points="713.95,1461.35 708.45,1451.45 719.45,1451.45" fill="none" stroke="#0000DD" stroke-width="2.5" stroke-linejoin="miter" stroke-linejoin="round"/>
<text x="742.6" y="1462" font-size="18">Nerve injury+Right ACC-ChR2</text>
<line x1="1119.8" y1="1409.8" x2="1119.8" y2="1665.3" stroke="#000" stroke-width="3.2" stroke-linecap="butt"/>
<line x1="1109.3" y1="1663.7" x2="1119.8" y2="1663.7" stroke="#000" stroke-width="3.2" stroke-linecap="butt"/>
<text x="1106.3" y="1670.54" font-size="19" text-anchor="end">0.0</text>
<line x1="1109.3" y1="1579.6" x2="1119.8" y2="1579.6" stroke="#000" stroke-width="3.2" stroke-linecap="butt"/>
<text x="1106.3" y="1586.44" font-size="19" text-anchor="end">0.5</text>
<line x1="1109.3" y1="1495.5" x2="1119.8" y2="1495.5" stroke="#000" stroke-width="3.2" stroke-linecap="butt"/>
<text x="1106.3" y="1502.34" font-size="19" text-anchor="end">1.0</text>
<line x1="1109.3" y1="1411.4" x2="1119.8" y2="1411.4" stroke="#000" stroke-width="3.2" stroke-linecap="butt"/>
<text x="1106.3" y="1418.24" font-size="19" text-anchor="end">1.5</text>
<line x1="1109.3" y1="1663.7" x2="1500" y2="1663.7" stroke="#000" stroke-width="3.2" stroke-linecap="butt"/>
<line x1="1167.3" y1="1663.7" x2="1167.3" y2="1674.7" stroke="#000" stroke-width="3.2" stroke-linecap="butt"/>
<text x="1167.3" y="1696" font-size="19.5" text-anchor="middle">BL</text>
<line x1="1238.3" y1="1663.7" x2="1238.3" y2="1674.7" stroke="#000" stroke-width="3.2" stroke-linecap="butt"/>
<text x="1238.3" y="1696" font-size="19.5" text-anchor="middle">3</text>
<line x1="1309.6" y1="1663.7" x2="1309.6" y2="1674.7" stroke="#000" stroke-width="3.2" stroke-linecap="butt"/>
<text x="1309.6" y="1696" font-size="19.5" text-anchor="middle">7</text>
<line x1="1380.9" y1="1663.7" x2="1380.9" y2="1674.7" stroke="#000" stroke-width="3.2" stroke-linecap="butt"/>
<text x="1380.9" y="1696" font-size="19.5" text-anchor="middle">14</text>
<line x1="1451.8" y1="1663.7" x2="1451.8" y2="1674.7" stroke="#000" stroke-width="3.2" stroke-linecap="butt"/>
<text x="1451.8" y="1696" font-size="19.5" text-anchor="middle">28</text>
<text x="1310" y="1378.5" font-size="23.8" text-anchor="middle">Ipsilateral</text>
<text x="1310" y="1735" font-size="21" text-anchor="middle">Time (days)</text>
<text x="1044.5" y="1536.5" font-size="21.2" text-anchor="middle" transform="rotate(-90 1044.5 1536.5)">Mechanical withdrawal</text>
<text x="1070" y="1536.5" font-size="21.2" text-anchor="middle" transform="rotate(-90 1070 1536.5)">threshold (g)</text>
<text transform="translate(1006,1380.2) scale(0.85,1)" x="0" y="0" font-size="50">k</text>
<rect x="1142.9" y="1559.08" width="7.4" height="7.4" fill="rgba(225,60,50,0.6)"/>
<rect x="1154.2" y="1491.8" width="7.4" height="7.4" fill="rgba(225,60,50,0.6)"/>
<rect x="1154.2" y="1559.08" width="7.4" height="7.4" fill="rgba(225,60,50,0.6)"/>
<rect x="1154.2" y="1592.72" width="7.4" height="7.4" fill="rgba(225,60,50,0.6)"/>
<rect x="1222.6" y="1660" width="7.4" height="7.4" fill="rgba(225,60,50,0.6)"/>
<rect x="1230.6" y="1660" width="7.4" height="7.4" fill="rgba(225,60,50,0.6)"/>
<rect x="1238.6" y="1660" width="7.4" height="7.4" fill="rgba(225,60,50,0.6)"/>
<rect x="1246.6" y="1660" width="7.4" height="7.4" fill="rgba(225,60,50,0.6)"/>
<rect x="1293.9" y="1660" width="7.4" height="7.4" fill="rgba(225,60,50,0.6)"/>
<rect x="1301.9" y="1660" width="7.4" height="7.4" fill="rgba(225,60,50,0.6)"/>
<rect x="1309.9" y="1660" width="7.4" height="7.4" fill="rgba(225,60,50,0.6)"/>
<rect x="1317.9" y="1660" width="7.4" height="7.4" fill="rgba(225,60,50,0.6)"/>
<rect x="1365.2" y="1660" width="7.4" height="7.4" fill="rgba(225,60,50,0.6)"/>
<rect x="1377.2" y="1660" width="7.4" height="7.4" fill="rgba(225,60,50,0.6)"/>
<rect x="1389.2" y="1660" width="7.4" height="7.4" fill="rgba(225,60,50,0.6)"/>
<rect x="1436.1" y="1660" width="7.4" height="7.4" fill="rgba(225,60,50,0.6)"/>
<rect x="1448.1" y="1660" width="7.4" height="7.4" fill="rgba(225,60,50,0.6)"/>
<rect x="1460.1" y="1660" width="7.4" height="7.4" fill="rgba(225,60,50,0.6)"/>
<rect x="1466.1" y="1660" width="7.4" height="7.4" fill="rgba(225,60,50,0.6)"/>
<circle cx="1157.9" cy="1428.22" r="3.7" fill="rgba(255,120,30,0.75)"/>
<circle cx="1157.9" cy="1562.78" r="3.7" fill="rgba(255,120,30,0.75)"/>
<circle cx="1169.6" cy="1562.78" r="3.7" fill="rgba(255,120,30,0.75)"/>
<circle cx="1233.9" cy="1428.22" r="3.7" fill="rgba(255,120,30,0.75)"/>
<circle cx="1233.9" cy="1495.5" r="3.7" fill="rgba(255,120,30,0.75)"/>
<circle cx="1233.9" cy="1562.78" r="3.7" fill="rgba(255,120,30,0.75)"/>
<circle cx="1233.9" cy="1596.42" r="3.7" fill="rgba(255,120,30,0.75)"/>
<circle cx="1298.6" cy="1636.79" r="3.7" fill="rgba(255,120,30,0.75)"/>
<circle cx="1309.6" cy="1636.79" r="3.7" fill="rgba(255,120,30,0.75)"/>
<circle cx="1298.6" cy="1651.93" r="3.7" fill="rgba(255,120,30,0.75)"/>
<circle cx="1309.6" cy="1651.93" r="3.7" fill="rgba(255,120,30,0.75)"/>
<circle cx="1320.6" cy="1651.93" r="3.7" fill="rgba(255,120,30,0.75)"/>
<circle cx="1385.5" cy="1562.78" r="3.7" fill="rgba(255,120,30,0.75)"/>
<circle cx="1385.5" cy="1596.42" r="3.7" fill="rgba(255,120,30,0.75)"/>
<circle cx="1374.9" cy="1658.65" r="3.7" fill="rgba(255,120,30,0.75)"/>
<circle cx="1460.8" cy="1596.42" r="3.7" fill="rgba(255,120,30,0.75)"/>
<circle cx="1460.8" cy="1636.79" r="3.7" fill="rgba(255,120,30,0.75)"/>
<circle cx="1460.8" cy="1651.93" r="3.7" fill="rgba(255,120,30,0.75)"/>
<polygon points="1228.3,1659.11 1232.89,1663.7 1228.3,1668.29 1223.71,1663.7" fill="rgba(255,170,80,0.7)"/>
<polygon points="1246.3,1659.11 1250.89,1663.7 1246.3,1668.29 1241.71,1663.7" fill="rgba(255,170,80,0.7)"/>
<polygon points="1301.6,1659.11 1306.19,1663.7 1301.6,1668.29 1297.01,1663.7" fill="rgba(255,170,80,0.7)"/>
<polygon points="1317.6,1659.11 1322.19,1663.7 1317.6,1668.29 1313.01,1663.7" fill="rgba(255,170,80,0.7)"/>
<polygon points="1388.9,1659.11 1393.49,1663.7 1388.9,1668.29 1384.31,1663.7" fill="rgba(255,170,80,0.7)"/>
<polygon points="1460.8,1625.47 1465.39,1630.06 1460.8,1634.65 1456.21,1630.06" fill="rgba(255,170,80,0.7)"/>
<polygon points="1445.8,1659.11 1450.39,1663.7 1445.8,1668.29 1441.21,1663.7" fill="rgba(255,170,80,0.7)"/>
<circle cx="1146.6" cy="1495.5" r="3.7" fill="rgba(255,180,100,0.75)"/>
<circle cx="1169.6" cy="1495.5" r="3.7" fill="rgba(255,180,100,0.75)"/>
<circle cx="1169.6" cy="1562.78" r="3.7" fill="rgba(255,180,100,0.75)"/>
<line x1="1167.3" y1="1487.59" x2="1167.3" y2="1527.96" stroke="#FF7F27" stroke-width="2.5" stroke-linecap="butt"/>
<line x1="1162.05" y1="1487.59" x2="1172.55" y2="1487.59" stroke="#FF7F27" stroke-width="2.5" stroke-linecap="butt"/>
<line x1="1162.05" y1="1527.96" x2="1172.55" y2="1527.96" stroke="#FF7F27" stroke-width="2.5" stroke-linecap="butt"/>
<line x1="1238.3" y1="1509.97" x2="1238.3" y2="1590.53" stroke="#FF7F27" stroke-width="2.5" stroke-linecap="butt"/>
<line x1="1233.05" y1="1509.97" x2="1243.55" y2="1509.97" stroke="#FF7F27" stroke-width="2.5" stroke-linecap="butt"/>
<line x1="1233.05" y1="1590.53" x2="1243.55" y2="1590.53" stroke="#FF7F27" stroke-width="2.5" stroke-linecap="butt"/>
<line x1="1309.6" y1="1639.82" x2="1309.6" y2="1653.1" stroke="#FF7F27" stroke-width="2.5" stroke-linecap="butt"/>
<line x1="1304.35" y1="1639.82" x2="1314.85" y2="1639.82" stroke="#FF7F27" stroke-width="2.5" stroke-linecap="butt"/>
<line x1="1304.35" y1="1653.1" x2="1314.85" y2="1653.1" stroke="#FF7F27" stroke-width="2.5" stroke-linecap="butt"/>
<line x1="1380.9" y1="1608.03" x2="1380.9" y2="1648.73" stroke="#FF7F27" stroke-width="2.5" stroke-linecap="butt"/>
<line x1="1375.65" y1="1608.03" x2="1386.15" y2="1608.03" stroke="#FF7F27" stroke-width="2.5" stroke-linecap="butt"/>
<line x1="1375.65" y1="1648.73" x2="1386.15" y2="1648.73" stroke="#FF7F27" stroke-width="2.5" stroke-linecap="butt"/>
<line x1="1451.8" y1="1618.96" x2="1451.8" y2="1644.02" stroke="#FF7F27" stroke-width="2.5" stroke-linecap="butt"/>
<line x1="1446.55" y1="1618.96" x2="1457.05" y2="1618.96" stroke="#FF7F27" stroke-width="2.5" stroke-linecap="butt"/>
<line x1="1446.55" y1="1644.02" x2="1457.05" y2="1644.02" stroke="#FF7F27" stroke-width="2.5" stroke-linecap="butt"/>
<polyline points="1167.3,1507.78 1238.3,1550.33 1309.6,1646.38 1380.9,1629.05 1451.8,1631.41" stroke="#FF7F27" stroke-width="4" fill="none" stroke-linejoin="round"/>
<circle cx="1167.3" cy="1507.78" r="4.6" fill="none" stroke="#FF7F27" stroke-width="2.5"/>
<circle cx="1238.3" cy="1550.33" r="4.6" fill="none" stroke="#FF7F27" stroke-width="2.5"/>
<circle cx="1309.6" cy="1646.38" r="4.6" fill="none" stroke="#FF7F27" stroke-width="2.5"/>
<circle cx="1380.9" cy="1629.05" r="4.6" fill="none" stroke="#FF7F27" stroke-width="2.5"/>
<circle cx="1451.8" cy="1631.41" r="4.6" fill="none" stroke="#FF7F27" stroke-width="2.5"/>
<line x1="1167.3" y1="1524.93" x2="1167.3" y2="1547.64" stroke="#FFA040" stroke-width="2.5" stroke-linecap="butt"/>
<line x1="1162.05" y1="1524.93" x2="1172.55" y2="1524.93" stroke="#FFA040" stroke-width="2.5" stroke-linecap="butt"/>
<line x1="1162.05" y1="1547.64" x2="1172.55" y2="1547.64" stroke="#FFA040" stroke-width="2.5" stroke-linecap="butt"/>
<line x1="1451.8" y1="1646.88" x2="1451.8" y2="1660.34" stroke="#FFA040" stroke-width="2.5" stroke-linecap="butt"/>
<line x1="1446.55" y1="1646.88" x2="1457.05" y2="1646.88" stroke="#FFA040" stroke-width="2.5" stroke-linecap="butt"/>
<line x1="1446.55" y1="1660.34" x2="1457.05" y2="1660.34" stroke="#FFA040" stroke-width="2.5" stroke-linecap="butt"/>
<polyline points="1167.3,1536.04 1238.3,1663.7 1309.6,1663.7 1380.9,1663.7 1451.8,1654.28" stroke="#FFA040" stroke-width="4" fill="none" stroke-linejoin="round"/>
<polygon points="1167.3,1529.64 1173.7,1536.04 1167.3,1542.44 1160.9,1536.04" fill="none" stroke="#FFA040" stroke-width="2.5" stroke-linejoin="miter" stroke-linejoin="round"/>
<polygon points="1238.3,1657.3 1244.7,1663.7 1238.3,1670.1 1231.9,1663.7" fill="none" stroke="#FFA040" stroke-width="2.5" stroke-linejoin="miter" stroke-linejoin="round"/>
<polygon points="1309.6,1657.3 1316,1663.7 1309.6,1670.1 1303.2,1663.7" fill="none" stroke="#FFA040" stroke-width="2.5" stroke-linejoin="miter" stroke-linejoin="round"/>
<polygon points="1380.9,1657.3 1387.3,1663.7 1380.9,1670.1 1374.5,1663.7" fill="none" stroke="#FFA040" stroke-width="2.5" stroke-linejoin="miter" stroke-linejoin="round"/>
<polygon points="1451.8,1647.88 1458.2,1654.28 1451.8,1660.68 1445.4,1654.28" fill="none" stroke="#FFA040" stroke-width="2.5" stroke-linejoin="miter" stroke-linejoin="round"/>
<line x1="1167.3" y1="1544.78" x2="1167.3" y2="1572.37" stroke="#D7191C" stroke-width="2.5" stroke-linecap="butt"/>
<line x1="1162.05" y1="1544.78" x2="1172.55" y2="1544.78" stroke="#D7191C" stroke-width="2.5" stroke-linecap="butt"/>
<line x1="1162.05" y1="1572.37" x2="1172.55" y2="1572.37" stroke="#D7191C" stroke-width="2.5" stroke-linecap="butt"/>
<polyline points="1167.3,1557.9 1238.3,1663.7 1309.6,1663.7 1380.9,1663.7 1451.8,1663.7" stroke="#D7191C" stroke-width="4" fill="none" stroke-linejoin="round"/>
<rect x="1162.7" y="1553.3" width="9.2" height="9.2" fill="none" stroke="#D7191C" stroke-width="2.5"/>
<rect x="1233.7" y="1659.1" width="9.2" height="9.2" fill="none" stroke="#D7191C" stroke-width="2.5"/>
<rect x="1305" y="1659.1" width="9.2" height="9.2" fill="none" stroke="#D7191C" stroke-width="2.5"/>
<rect x="1376.3" y="1659.1" width="9.2" height="9.2" fill="none" stroke="#D7191C" stroke-width="2.5"/>
<rect x="1447.2" y="1659.1" width="9.2" height="9.2" fill="none" stroke="#D7191C" stroke-width="2.5"/>
<text x="1169.3" y="1487" font-size="34" text-anchor="middle">**</text>
<text x="1240" y="1503.5" font-size="34" text-anchor="middle">*</text>
<text x="1311.2" y="1638.5" font-size="34" text-anchor="middle">*</text>
<line x1="1187.8" y1="1404.4" x2="1214.6" y2="1404.4" stroke="#D7191C" stroke-width="4" stroke-linecap="butt"/>
<rect x="1196.6" y="1399.8" width="9.2" height="9.2" fill="none" stroke="#D7191C" stroke-width="2.5"/>
<text x="1230.3" y="1410.7" font-size="18">Nerve injury</text>
<line x1="1187.8" y1="1428.5" x2="1214.6" y2="1428.5" stroke="#FFA040" stroke-width="4" stroke-linecap="butt"/>
<polygon points="1201.2,1422.1 1207.6,1428.5 1201.2,1434.9 1194.8,1428.5" fill="none" stroke="#FFA040" stroke-width="2.5" stroke-linejoin="miter" stroke-linejoin="round"/>
<text x="1230.3" y="1434.8" font-size="18">Nerve injury+Left ACC-eNpHR</text>
<line x1="1187.8" y1="1451.9" x2="1214.6" y2="1451.9" stroke="#FF7F27" stroke-width="4" stroke-linecap="butt"/>
<circle cx="1201.2" cy="1451.9" r="4.6" fill="none" stroke="#FF7F27" stroke-width="2.5"/>
<text x="1230.3" y="1458.2" font-size="18">Nerve injury+Right ACC-eNpHR</text>
<line x1="114" y1="1851.3" x2="114" y2="2106.7" stroke="#000" stroke-width="2.8" stroke-linecap="butt"/>
<line x1="103.5" y1="2105.3" x2="114" y2="2105.3" stroke="#000" stroke-width="2.8" stroke-linecap="butt"/>
<text x="100.5" y="2112.14" font-size="19" text-anchor="end">0.0</text>
<line x1="103.5" y1="2021.1" x2="114" y2="2021.1" stroke="#000" stroke-width="2.8" stroke-linecap="butt"/>
<text x="100.5" y="2027.94" font-size="19" text-anchor="end">0.5</text>
<line x1="103.5" y1="1936.9" x2="114" y2="1936.9" stroke="#000" stroke-width="2.8" stroke-linecap="butt"/>
<text x="100.5" y="1943.74" font-size="19" text-anchor="end">1.0</text>
<line x1="103.5" y1="1852.7" x2="114" y2="1852.7" stroke="#000" stroke-width="2.8" stroke-linecap="butt"/>
<text x="100.5" y="1859.54" font-size="19" text-anchor="end">1.5</text>
<line x1="103.5" y1="2105.3" x2="494" y2="2105.3" stroke="#000" stroke-width="2.8" stroke-linecap="butt"/>
<line x1="161.3" y1="2105.3" x2="161.3" y2="2116.3" stroke="#000" stroke-width="2.8" stroke-linecap="butt"/>
<text x="161.3" y="2135.5" font-size="19.5" text-anchor="middle">BL</text>
<line x1="231.9" y1="2105.3" x2="231.9" y2="2116.3" stroke="#000" stroke-width="2.8" stroke-linecap="butt"/>
<text x="231.9" y="2135.5" font-size="19.5" text-anchor="middle">3</text>
<line x1="302.7" y1="2105.3" x2="302.7" y2="2116.3" stroke="#000" stroke-width="2.8" stroke-linecap="butt"/>
<text x="302.7" y="2135.5" font-size="19.5" text-anchor="middle">7</text>
<line x1="374.3" y1="2105.3" x2="374.3" y2="2116.3" stroke="#000" stroke-width="2.8" stroke-linecap="butt"/>
<text x="374.3" y="2135.5" font-size="19.5" text-anchor="middle">14</text>
<line x1="444.8" y1="2105.3" x2="444.8" y2="2116.3" stroke="#000" stroke-width="2.8" stroke-linecap="butt"/>
<text x="444.8" y="2135.5" font-size="19.5" text-anchor="middle">28</text>
<text x="302.7" y="1819" font-size="23.8" text-anchor="middle">Contralateral</text>
<text x="302.7" y="2175.8" font-size="21" text-anchor="middle">Time (days)</text>
<text x="38" y="1978.6" font-size="21.2" text-anchor="middle" transform="rotate(-90 38 1978.6)">Mechanical withdrawal</text>
<text x="63.5" y="1978.6" font-size="21.2" text-anchor="middle" transform="rotate(-90 63.5 1978.6)">threshold (g)</text>
<text transform="translate(0,1823.1) scale(0.85,1)" x="0" y="0" font-size="50">l</text>
<rect x="148.1" y="1933.2" width="7.4" height="7.4" fill="rgba(255,20,20,0.4)"/>
<rect x="136.7" y="2000.56" width="7.4" height="7.4" fill="rgba(255,20,20,0.4)"/>
<rect x="148.1" y="2000.56" width="7.4" height="7.4" fill="rgba(255,20,20,0.4)"/>
<rect x="159.4" y="2000.56" width="7.4" height="7.4" fill="rgba(255,20,20,0.4)"/>
<rect x="136.7" y="2034.24" width="7.4" height="7.4" fill="rgba(255,20,20,0.4)"/>
<rect x="148.1" y="2034.24" width="7.4" height="7.4" fill="rgba(255,20,20,0.4)"/>
<rect x="159.4" y="2034.24" width="7.4" height="7.4" fill="rgba(255,20,20,0.4)"/>
<rect x="156.6" y="2034.24" width="7.4" height="7.4" fill="rgba(255,20,20,0.4)"/>
<rect x="224.4" y="1933.2" width="7.4" height="7.4" fill="rgba(255,20,20,0.4)"/>
<rect x="213" y="2034.24" width="7.4" height="7.4" fill="rgba(255,20,20,0.4)"/>
<rect x="224.4" y="2034.24" width="7.4" height="7.4" fill="rgba(255,20,20,0.4)"/>
<rect x="235.7" y="2034.24" width="7.4" height="7.4" fill="rgba(255,20,20,0.4)"/>
<rect x="224.4" y="2074.66" width="7.4" height="7.4" fill="rgba(255,20,20,0.4)"/>
<rect x="235.7" y="2074.66" width="7.4" height="7.4" fill="rgba(255,20,20,0.4)"/>
<rect x="287.5" y="2000.56" width="7.4" height="7.4" fill="rgba(255,20,20,0.4)"/>
<rect x="287.5" y="2074.66" width="7.4" height="7.4" fill="rgba(255,20,20,0.4)"/>
<rect x="299" y="2074.66" width="7.4" height="7.4" fill="rgba(255,20,20,0.4)"/>
<rect x="299" y="2101.6" width="7.4" height="7.4" fill="rgba(255,20,20,0.4)"/>
<rect x="304" y="2034.24" width="7.4" height="7.4" fill="rgba(255,20,20,0.4)"/>
<rect x="311" y="2034.24" width="7.4" height="7.4" fill="rgba(255,20,20,0.4)"/>
<rect x="317" y="2034.24" width="7.4" height="7.4" fill="rgba(255,20,20,0.4)"/>
<rect x="362.6" y="2034.24" width="7.4" height="7.4" fill="rgba(255,20,20,0.4)"/>
<rect x="370.6" y="2034.24" width="7.4" height="7.4" fill="rgba(255,20,20,0.4)"/>
<rect x="378.6" y="2034.24" width="7.4" height="7.4" fill="rgba(255,20,20,0.4)"/>
<rect x="386.6" y="2000.56" width="7.4" height="7.4" fill="rgba(255,20,20,0.4)"/>
<rect x="374.6" y="2074.66" width="7.4" height="7.4" fill="rgba(255,20,20,0.4)"/>
<rect x="366.6" y="2034.24" width="7.4" height="7.4" fill="rgba(255,20,20,0.4)"/>
<rect x="449.1" y="2034.24" width="7.4" height="7.4" fill="rgba(255,20,20,0.4)"/>
<rect x="457.1" y="2034.24" width="7.4" height="7.4" fill="rgba(255,20,20,0.4)"/>
<rect x="465.1" y="2034.24" width="7.4" height="7.4" fill="rgba(255,20,20,0.4)"/>
<rect x="463.1" y="2000.56" width="7.4" height="7.4" fill="rgba(255,20,20,0.4)"/>
<rect x="450.6" y="2074.66" width="7.4" height="7.4" fill="rgba(255,20,20,0.4)"/>
<rect x="441.1" y="2034.24" width="7.4" height="7.4" fill="rgba(255,20,20,0.4)"/>
<circle cx="151.8" cy="1936.9" r="3.7" fill="rgba(0,0,0,0.48)"/>
<circle cx="140.4" cy="2004.26" r="3.7" fill="rgba(0,0,0,0.48)"/>
<circle cx="151.8" cy="2004.26" r="3.7" fill="rgba(0,0,0,0.48)"/>
<circle cx="140.4" cy="2037.94" r="3.7" fill="rgba(0,0,0,0.48)"/>
<circle cx="151.8" cy="2037.94" r="3.7" fill="rgba(0,0,0,0.48)"/>
<circle cx="163.1" cy="2037.94" r="3.7" fill="rgba(0,0,0,0.48)"/>
<circle cx="228.1" cy="1936.9" r="3.7" fill="rgba(0,0,0,0.48)"/>
<circle cx="239.4" cy="1936.9" r="3.7" fill="rgba(0,0,0,0.48)"/>
<circle cx="216.7" cy="2004.26" r="3.7" fill="rgba(0,0,0,0.48)"/>
<circle cx="228.1" cy="2004.26" r="3.7" fill="rgba(0,0,0,0.48)"/>
<circle cx="239.4" cy="2004.26" r="3.7" fill="rgba(0,0,0,0.48)"/>
<circle cx="216.7" cy="2037.94" r="3.7" fill="rgba(0,0,0,0.48)"/>
<circle cx="228.1" cy="2037.94" r="3.7" fill="rgba(0,0,0,0.48)"/>
<circle cx="239.4" cy="2037.94" r="3.7" fill="rgba(0,0,0,0.48)"/>
<circle cx="302.7" cy="1936.9" r="3.7" fill="rgba(0,0,0,0.48)"/>
<circle cx="314.2" cy="1936.9" r="3.7" fill="rgba(0,0,0,0.48)"/>
<circle cx="291.2" cy="2004.26" r="3.7" fill="rgba(0,0,0,0.48)"/>
<circle cx="302.7" cy="2004.26" r="3.7" fill="rgba(0,0,0,0.48)"/>
<circle cx="291.2" cy="2037.94" r="3.7" fill="rgba(0,0,0,0.48)"/>
<circle cx="299.7" cy="2037.94" r="3.7" fill="rgba(0,0,0,0.48)"/>
<circle cx="307.7" cy="2037.94" r="3.7" fill="rgba(0,0,0,0.48)"/>
<circle cx="314.7" cy="2037.94" r="3.7" fill="rgba(0,0,0,0.48)"/>
<circle cx="378.3" cy="1936.9" r="3.7" fill="rgba(0,0,0,0.48)"/>
<circle cx="374.3" cy="2004.26" r="3.7" fill="rgba(0,0,0,0.48)"/>
<circle cx="382.3" cy="2004.26" r="3.7" fill="rgba(0,0,0,0.48)"/>
<circle cx="390.3" cy="2004.26" r="3.7" fill="rgba(0,0,0,0.48)"/>
<circle cx="378.3" cy="2037.94" r="3.7" fill="rgba(0,0,0,0.48)"/>
<circle cx="390.3" cy="2037.94" r="3.7" fill="rgba(0,0,0,0.48)"/>
<circle cx="454.3" cy="1936.9" r="3.7" fill="rgba(0,0,0,0.48)"/>
<circle cx="460.8" cy="2004.26" r="3.7" fill="rgba(0,0,0,0.48)"/>
<circle cx="466.8" cy="2004.26" r="3.7" fill="rgba(0,0,0,0.48)"/>
<circle cx="460.8" cy="2037.94" r="3.7" fill="rgba(0,0,0,0.48)"/>
<circle cx="466.8" cy="2037.94" r="3.7" fill="rgba(0,0,0,0.48)"/>
<line x1="161.3" y1="2002.07" x2="161.3" y2="2026.83" stroke="#D7191C" stroke-width="2.5" stroke-linecap="butt"/>
<line x1="156.05" y1="2002.07" x2="166.55" y2="2002.07" stroke="#D7191C" stroke-width="2.5" stroke-linecap="butt"/>
<line x1="156.05" y1="2026.83" x2="166.55" y2="2026.83" stroke="#D7191C" stroke-width="2.5" stroke-linecap="butt"/>
<line x1="231.9" y1="2021.1" x2="231.9" y2="2052.25" stroke="#D7191C" stroke-width="2.5" stroke-linecap="butt"/>
<line x1="226.65" y1="2021.1" x2="237.15" y2="2021.1" stroke="#D7191C" stroke-width="2.5" stroke-linecap="butt"/>
<line x1="226.65" y1="2052.25" x2="237.15" y2="2052.25" stroke="#D7191C" stroke-width="2.5" stroke-linecap="butt"/>
<line x1="302.7" y1="2039.62" x2="302.7" y2="2053.1" stroke="#D7191C" stroke-width="2.5" stroke-linecap="butt"/>
<line x1="297.45" y1="2039.62" x2="307.95" y2="2039.62" stroke="#D7191C" stroke-width="2.5" stroke-linecap="butt"/>
<line x1="297.45" y1="2053.1" x2="307.95" y2="2053.1" stroke="#D7191C" stroke-width="2.5" stroke-linecap="butt"/>
<line x1="374.3" y1="2031.2" x2="374.3" y2="2041.31" stroke="#D7191C" stroke-width="2.5" stroke-linecap="butt"/>
<line x1="369.05" y1="2031.2" x2="379.55" y2="2031.2" stroke="#D7191C" stroke-width="2.5" stroke-linecap="butt"/>
<line x1="369.05" y1="2041.31" x2="379.55" y2="2041.31" stroke="#D7191C" stroke-width="2.5" stroke-linecap="butt"/>
<line x1="444.8" y1="2031.2" x2="444.8" y2="2041.31" stroke="#D7191C" stroke-width="2.5" stroke-linecap="butt"/>
<line x1="439.55" y1="2031.2" x2="450.05" y2="2031.2" stroke="#D7191C" stroke-width="2.5" stroke-linecap="butt"/>
<line x1="439.55" y1="2041.31" x2="450.05" y2="2041.31" stroke="#D7191C" stroke-width="2.5" stroke-linecap="butt"/>
<polyline points="161.3,2014.36 231.9,2036.59 302.7,2046.36 374.3,2036.26 444.8,2036.26" stroke="#D7191C" stroke-width="4" fill="none" stroke-linejoin="round"/>
<rect x="156.7" y="2009.76" width="9.2" height="9.2" fill="none" stroke="#D7191C" stroke-width="2.5"/>
<rect x="227.3" y="2031.99" width="9.2" height="9.2" fill="none" stroke="#D7191C" stroke-width="2.5"/>
<rect x="298.1" y="2041.76" width="9.2" height="9.2" fill="none" stroke="#D7191C" stroke-width="2.5"/>
<rect x="369.7" y="2031.66" width="9.2" height="9.2" fill="none" stroke="#D7191C" stroke-width="2.5"/>
<rect x="440.2" y="2031.66" width="9.2" height="9.2" fill="none" stroke="#D7191C" stroke-width="2.5"/>
<line x1="161.3" y1="1996.35" x2="161.3" y2="2021.27" stroke="#000" stroke-width="2.5" stroke-linecap="butt"/>
<line x1="156.05" y1="1996.35" x2="166.55" y2="1996.35" stroke="#000" stroke-width="2.5" stroke-linecap="butt"/>
<line x1="156.05" y1="2021.27" x2="166.55" y2="2021.27" stroke="#000" stroke-width="2.5" stroke-linecap="butt"/>
<line x1="231.9" y1="1985.57" x2="231.9" y2="2015.88" stroke="#000" stroke-width="2.5" stroke-linecap="butt"/>
<line x1="226.65" y1="1985.57" x2="237.15" y2="1985.57" stroke="#000" stroke-width="2.5" stroke-linecap="butt"/>
<line x1="226.65" y1="2015.88" x2="237.15" y2="2015.88" stroke="#000" stroke-width="2.5" stroke-linecap="butt"/>
<line x1="302.7" y1="1989.1" x2="302.7" y2="2021.27" stroke="#000" stroke-width="2.5" stroke-linecap="butt"/>
<line x1="297.45" y1="1989.1" x2="307.95" y2="1989.1" stroke="#000" stroke-width="2.5" stroke-linecap="butt"/>
<line x1="297.45" y1="2021.27" x2="307.95" y2="2021.27" stroke="#000" stroke-width="2.5" stroke-linecap="butt"/>
<line x1="374.3" y1="1993.65" x2="374.3" y2="2016.38" stroke="#000" stroke-width="2.5" stroke-linecap="butt"/>
<line x1="369.05" y1="1993.65" x2="379.55" y2="1993.65" stroke="#000" stroke-width="2.5" stroke-linecap="butt"/>
<line x1="369.05" y1="2016.38" x2="379.55" y2="2016.38" stroke="#000" stroke-width="2.5" stroke-linecap="butt"/>
<line x1="444.8" y1="1993.65" x2="444.8" y2="2016.38" stroke="#000" stroke-width="2.5" stroke-linecap="butt"/>
<line x1="439.55" y1="1993.65" x2="450.05" y2="1993.65" stroke="#000" stroke-width="2.5" stroke-linecap="butt"/>
<line x1="439.55" y1="2016.38" x2="450.05" y2="2016.38" stroke="#000" stroke-width="2.5" stroke-linecap="butt"/>
<polyline points="161.3,2009.65 231.9,2000.72 302.7,2004.26 374.3,2004.26 444.8,2004.26" stroke="#000" stroke-width="4" fill="none" stroke-linejoin="round"/>
<circle cx="161.3" cy="2009.65" r="4.6" fill="none" stroke="#000" stroke-width="2.5"/>
<circle cx="231.9" cy="2000.72" r="4.6" fill="none" stroke="#000" stroke-width="2.5"/>
<circle cx="302.7" cy="2004.26" r="4.6" fill="none" stroke="#000" stroke-width="2.5"/>
<circle cx="374.3" cy="2004.26" r="4.6" fill="none" stroke="#000" stroke-width="2.5"/>
<circle cx="444.8" cy="2004.26" r="4.6" fill="none" stroke="#000" stroke-width="2.5"/>
<text x="302.7" y="2086.6" font-size="34" text-anchor="middle">*</text>
<text x="374.3" y="2075" font-size="34" text-anchor="middle">*</text>
<text x="445.8" y="2077.3" font-size="34" text-anchor="middle">*</text>
<line x1="619.4" y1="1850.1" x2="619.4" y2="2104.5" stroke="#000" stroke-width="2.4" stroke-linecap="butt"/>
<line x1="608.9" y1="2103.3" x2="619.4" y2="2103.3" stroke="#000" stroke-width="2.4" stroke-linecap="butt"/>
<text x="605.9" y="2110.14" font-size="19" text-anchor="end">0.0</text>
<line x1="608.9" y1="2052.9" x2="619.4" y2="2052.9" stroke="#000" stroke-width="2.4" stroke-linecap="butt"/>
<text x="605.9" y="2059.74" font-size="19" text-anchor="end">0.2</text>
<line x1="608.9" y1="2002.5" x2="619.4" y2="2002.5" stroke="#000" stroke-width="2.4" stroke-linecap="butt"/>
<text x="605.9" y="2009.34" font-size="19" text-anchor="end">0.4</text>
<line x1="608.9" y1="1952.1" x2="619.4" y2="1952.1" stroke="#000" stroke-width="2.4" stroke-linecap="butt"/>
<text x="605.9" y="1958.94" font-size="19" text-anchor="end">0.6</text>
<line x1="608.9" y1="1901.7" x2="619.4" y2="1901.7" stroke="#000" stroke-width="2.4" stroke-linecap="butt"/>
<text x="605.9" y="1908.54" font-size="19" text-anchor="end">0.8</text>
<line x1="608.9" y1="1851.3" x2="619.4" y2="1851.3" stroke="#000" stroke-width="2.4" stroke-linecap="butt"/>
<text x="605.9" y="1858.14" font-size="19" text-anchor="end">1.0</text>
<line x1="608.9" y1="2103.3" x2="992" y2="2103.3" stroke="#000" stroke-width="2.4" stroke-linecap="butt"/>
<line x1="665.6" y1="2103.3" x2="665.6" y2="2114.3" stroke="#000" stroke-width="2.4" stroke-linecap="butt"/>
<text x="665.6" y="2133.5" font-size="19.5" text-anchor="middle">BL</text>
<line x1="735.2" y1="2103.3" x2="735.2" y2="2114.3" stroke="#000" stroke-width="2.4" stroke-linecap="butt"/>
<text x="735.2" y="2133.5" font-size="19.5" text-anchor="middle">3</text>
<line x1="805.4" y1="2103.3" x2="805.4" y2="2114.3" stroke="#000" stroke-width="2.4" stroke-linecap="butt"/>
<text x="805.4" y="2133.5" font-size="19.5" text-anchor="middle">7</text>
<line x1="875" y1="2103.3" x2="875" y2="2114.3" stroke="#000" stroke-width="2.4" stroke-linecap="butt"/>
<text x="875" y="2133.5" font-size="19.5" text-anchor="middle">14</text>
<line x1="944.5" y1="2103.3" x2="944.5" y2="2114.3" stroke="#000" stroke-width="2.4" stroke-linecap="butt"/>
<text x="944.5" y="2133.5" font-size="19.5" text-anchor="middle">28</text>
<text x="805.4" y="1817.7" font-size="23.8" text-anchor="middle">Contralateral</text>
<text x="805.4" y="2174" font-size="21" text-anchor="middle">Time (days)</text>
<text x="543.5" y="1977" font-size="21.2" text-anchor="middle" transform="rotate(-90 543.5 1977)">Mechanical withdrawal</text>
<text x="569" y="1977" font-size="21.2" text-anchor="middle" transform="rotate(-90 569 1977)">threshold (g)</text>
<text transform="translate(503,1823.5) scale(0.85,1)" x="0" y="0" font-size="50">m</text>
<rect x="652.5" y="1847.6" width="7.4" height="7.4" fill="rgba(255,20,20,0.4)"/>
<rect x="664.2" y="1847.6" width="7.4" height="7.4" fill="rgba(255,20,20,0.4)"/>
<rect x="641.1" y="1948.4" width="7.4" height="7.4" fill="rgba(255,20,20,0.4)"/>
<rect x="652.5" y="1948.4" width="7.4" height="7.4" fill="rgba(255,20,20,0.4)"/>
<rect x="664.2" y="1948.4" width="7.4" height="7.4" fill="rgba(255,20,20,0.4)"/>
<rect x="652.5" y="1998.8" width="7.4" height="7.4" fill="rgba(255,20,20,0.4)"/>
<rect x="664.2" y="1998.8" width="7.4" height="7.4" fill="rgba(255,20,20,0.4)"/>
<rect x="727.8" y="1847.6" width="7.4" height="7.4" fill="rgba(255,20,20,0.4)"/>
<rect x="711.5" y="1998.8" width="7.4" height="7.4" fill="rgba(255,20,20,0.4)"/>
<rect x="722.5" y="1998.8" width="7.4" height="7.4" fill="rgba(255,20,20,0.4)"/>
<rect x="733.5" y="1998.8" width="7.4" height="7.4" fill="rgba(255,20,20,0.4)"/>
<rect x="727.8" y="2059.28" width="7.4" height="7.4" fill="rgba(255,20,20,0.4)"/>
<rect x="739.5" y="2059.28" width="7.4" height="7.4" fill="rgba(255,20,20,0.4)"/>
<rect x="789.7" y="1948.4" width="7.4" height="7.4" fill="rgba(255,20,20,0.4)"/>
<rect x="801.7" y="1948.4" width="7.4" height="7.4" fill="rgba(255,20,20,0.4)"/>
<rect x="789.7" y="1998.8" width="7.4" height="7.4" fill="rgba(255,20,20,0.4)"/>
<rect x="797.7" y="1998.8" width="7.4" height="7.4" fill="rgba(255,20,20,0.4)"/>
<rect x="805.7" y="1998.8" width="7.4" height="7.4" fill="rgba(255,20,20,0.4)"/>
<rect x="813.7" y="1998.8" width="7.4" height="7.4" fill="rgba(255,20,20,0.4)"/>
<rect x="789.7" y="2059.28" width="7.4" height="7.4" fill="rgba(255,20,20,0.4)"/>
<rect x="801.7" y="2059.28" width="7.4" height="7.4" fill="rgba(255,20,20,0.4)"/>
<rect x="801.7" y="2099.6" width="7.4" height="7.4" fill="rgba(255,20,20,0.4)"/>
<rect x="877.3" y="1948.4" width="7.4" height="7.4" fill="rgba(255,20,20,0.4)"/>
<rect x="888.3" y="1948.4" width="7.4" height="7.4" fill="rgba(255,20,20,0.4)"/>
<rect x="859.3" y="1998.8" width="7.4" height="7.4" fill="rgba(255,20,20,0.4)"/>
<rect x="867.3" y="1998.8" width="7.4" height="7.4" fill="rgba(255,20,20,0.4)"/>
<rect x="875.3" y="1998.8" width="7.4" height="7.4" fill="rgba(255,20,20,0.4)"/>
<rect x="883.3" y="1998.8" width="7.4" height="7.4" fill="rgba(255,20,20,0.4)"/>
<rect x="879.3" y="2059.28" width="7.4" height="7.4" fill="rgba(255,20,20,0.4)"/>
<rect x="948.8" y="1948.4" width="7.4" height="7.4" fill="rgba(255,20,20,0.4)"/>
<rect x="956.8" y="1948.4" width="7.4" height="7.4" fill="rgba(255,20,20,0.4)"/>
<rect x="964.8" y="1948.4" width="7.4" height="7.4" fill="rgba(255,20,20,0.4)"/>
<rect x="932.8" y="1998.8" width="7.4" height="7.4" fill="rgba(255,20,20,0.4)"/>
<rect x="944.8" y="1998.8" width="7.4" height="7.4" fill="rgba(255,20,20,0.4)"/>
<rect x="954.8" y="1998.8" width="7.4" height="7.4" fill="rgba(255,20,20,0.4)"/>
<rect x="964.8" y="1998.8" width="7.4" height="7.4" fill="rgba(255,20,20,0.4)"/>
<rect x="948.8" y="2059.28" width="7.4" height="7.4" fill="rgba(255,20,20,0.4)"/>
<polygon points="644.8,1998.5 640.36,2006.5 649.24,2006.5" fill="rgba(30,180,232,0.6)"/>
<polygon points="656.2,2058.98 651.76,2066.98 660.64,2066.98" fill="rgba(30,180,232,0.6)"/>
<polygon points="667.9,1998.5 663.46,2006.5 672.34,2006.5" fill="rgba(30,180,232,0.6)"/>
<polygon points="715.2,2058.98 710.76,2066.98 719.64,2066.98" fill="rgba(30,180,232,0.6)"/>
<polygon points="726.2,2058.98 721.76,2066.98 730.64,2066.98" fill="rgba(30,180,232,0.6)"/>
<polygon points="737.2,2058.98 732.76,2066.98 741.64,2066.98" fill="rgba(30,180,232,0.6)"/>
<polygon points="805.4,2081.66 800.96,2089.66 809.84,2089.66" fill="rgba(30,180,232,0.6)"/>
<polygon points="816.4,2058.98 811.96,2066.98 820.84,2066.98" fill="rgba(30,180,232,0.6)"/>
<polygon points="802.4,1998.5 797.96,2006.5 806.84,2006.5" fill="rgba(30,180,232,0.6)"/>
<polygon points="869,2058.98 864.56,2066.98 873.44,2066.98" fill="rgba(30,180,232,0.6)"/>
<polygon points="881,2058.98 876.56,2066.98 885.44,2066.98" fill="rgba(30,180,232,0.6)"/>
<polygon points="892,2058.98 887.56,2066.98 896.44,2066.98" fill="rgba(30,180,232,0.6)"/>
<polygon points="881,2081.66 876.56,2089.66 885.44,2089.66" fill="rgba(30,180,232,0.6)"/>
<polygon points="892,2081.66 887.56,2089.66 896.44,2089.66" fill="rgba(30,180,232,0.6)"/>
<polygon points="943.5,2081.66 939.06,2089.66 947.94,2089.66" fill="rgba(30,180,232,0.6)"/>
<polygon points="964.5,2058.98 960.06,2066.98 968.94,2066.98" fill="rgba(30,180,232,0.6)"/>
<polygon points="964.5,2081.66 960.06,2089.66 968.94,2089.66" fill="rgba(30,180,232,0.6)"/>
<polygon points="954.5,2089.22 950.06,2097.22 958.94,2097.22" fill="rgba(30,180,232,0.6)"/>
<polygon points="944.5,2058.98 940.06,2066.98 948.94,2066.98" fill="rgba(30,180,232,0.6)"/>
<polygon points="644.8,1855.3 640.36,1847.3 649.24,1847.3" fill="rgba(60,40,230,0.45)"/>
<polygon points="656.2,1855.3 651.76,1847.3 660.64,1847.3" fill="rgba(60,40,230,0.45)"/>
<polygon points="667.9,1855.3 663.46,1847.3 672.34,1847.3" fill="rgba(60,40,230,0.45)"/>
<polygon points="644.8,1956.1 640.36,1948.1 649.24,1948.1" fill="rgba(60,40,230,0.45)"/>
<polygon points="651.6,1956.1 647.16,1948.1 656.04,1948.1" fill="rgba(60,40,230,0.45)"/>
<polygon points="656.2,1956.1 651.76,1948.1 660.64,1948.1" fill="rgba(60,40,230,0.45)"/>
<polygon points="662.6,1956.1 658.16,1948.1 667.04,1948.1" fill="rgba(60,40,230,0.45)"/>
<polygon points="667.9,1956.1 663.46,1948.1 672.34,1948.1" fill="rgba(60,40,230,0.45)"/>
<polygon points="656.2,2006.5 651.76,1998.5 660.64,1998.5" fill="rgba(60,40,230,0.45)"/>
<polygon points="731.5,1855.3 727.06,1847.3 735.94,1847.3" fill="rgba(60,40,230,0.45)"/>
<polygon points="715.2,1956.1 710.76,1948.1 719.64,1948.1" fill="rgba(60,40,230,0.45)"/>
<polygon points="726.2,1956.1 721.76,1948.1 730.64,1948.1" fill="rgba(60,40,230,0.45)"/>
<polygon points="737.2,1956.1 732.76,1948.1 741.64,1948.1" fill="rgba(60,40,230,0.45)"/>
<polygon points="743.2,1956.1 738.76,1948.1 747.64,1948.1" fill="rgba(60,40,230,0.45)"/>
<polygon points="743.2,2066.98 738.76,2058.98 747.64,2058.98" fill="rgba(60,40,230,0.45)"/>
<polygon points="793.4,1956.1 788.96,1948.1 797.84,1948.1" fill="rgba(60,40,230,0.45)"/>
<polygon points="805.4,1956.1 800.96,1948.1 809.84,1948.1" fill="rgba(60,40,230,0.45)"/>
<polygon points="816.4,1956.1 811.96,1948.1 820.84,1948.1" fill="rgba(60,40,230,0.45)"/>
<polygon points="793.4,2006.5 788.96,1998.5 797.84,1998.5" fill="rgba(60,40,230,0.45)"/>
<polygon points="799.4,2006.5 794.96,1998.5 803.84,1998.5" fill="rgba(60,40,230,0.45)"/>
<polygon points="805.4,2006.5 800.96,1998.5 809.84,1998.5" fill="rgba(60,40,230,0.45)"/>
<polygon points="811.4,2006.5 806.96,1998.5 815.84,1998.5" fill="rgba(60,40,230,0.45)"/>
<polygon points="869,1956.1 864.56,1948.1 873.44,1948.1" fill="rgba(60,40,230,0.45)"/>
<polygon points="881,1956.1 876.56,1948.1 885.44,1948.1" fill="rgba(60,40,230,0.45)"/>
<polygon points="863,2006.5 858.56,1998.5 867.44,1998.5" fill="rgba(60,40,230,0.45)"/>
<polygon points="875,2006.5 870.56,1998.5 879.44,1998.5" fill="rgba(60,40,230,0.45)"/>
<polygon points="883,2006.5 878.56,1998.5 887.44,1998.5" fill="rgba(60,40,230,0.45)"/>
<polygon points="891,2006.5 886.56,1998.5 895.44,1998.5" fill="rgba(60,40,230,0.45)"/>
<polygon points="943.5,1956.1 939.06,1948.1 947.94,1948.1" fill="rgba(60,40,230,0.45)"/>
<polygon points="954.5,1956.1 950.06,1948.1 958.94,1948.1" fill="rgba(60,40,230,0.45)"/>
<polygon points="964.5,1956.1 960.06,1948.1 968.94,1948.1" fill="rgba(60,40,230,0.45)"/>
<polygon points="954.5,2006.5 950.06,1998.5 958.94,1998.5" fill="rgba(60,40,230,0.45)"/>
<polygon points="964.5,2006.5 960.06,1998.5 968.94,1998.5" fill="rgba(60,40,230,0.45)"/>
<polygon points="954.5,2089.66 950.06,2081.66 958.94,2081.66" fill="rgba(60,40,230,0.45)"/>
<line x1="665.6" y1="1896.16" x2="665.6" y2="1920.1" stroke="#0000DD" stroke-width="2.5" stroke-linecap="butt"/>
<line x1="660.35" y1="1896.16" x2="670.85" y2="1896.16" stroke="#0000DD" stroke-width="2.5" stroke-linecap="butt"/>
<line x1="660.35" y1="1920.1" x2="670.85" y2="1920.1" stroke="#0000DD" stroke-width="2.5" stroke-linecap="butt"/>
<line x1="735.2" y1="1902.46" x2="735.2" y2="1954.12" stroke="#0000DD" stroke-width="2.5" stroke-linecap="butt"/>
<line x1="729.95" y1="1902.46" x2="740.45" y2="1902.46" stroke="#0000DD" stroke-width="2.5" stroke-linecap="butt"/>
<line x1="729.95" y1="1954.12" x2="740.45" y2="1954.12" stroke="#0000DD" stroke-width="2.5" stroke-linecap="butt"/>
<line x1="805.4" y1="1975.28" x2="805.4" y2="1989.9" stroke="#0000DD" stroke-width="2.5" stroke-linecap="butt"/>
<line x1="800.15" y1="1975.28" x2="810.65" y2="1975.28" stroke="#0000DD" stroke-width="2.5" stroke-linecap="butt"/>
<line x1="800.15" y1="1989.9" x2="810.65" y2="1989.9" stroke="#0000DD" stroke-width="2.5" stroke-linecap="butt"/>
<line x1="875" y1="1987.38" x2="875" y2="1997.46" stroke="#0000DD" stroke-width="2.5" stroke-linecap="butt"/>
<line x1="869.75" y1="1987.38" x2="880.25" y2="1987.38" stroke="#0000DD" stroke-width="2.5" stroke-linecap="butt"/>
<line x1="869.75" y1="1997.46" x2="880.25" y2="1997.46" stroke="#0000DD" stroke-width="2.5" stroke-linecap="butt"/>
<line x1="944.5" y1="1982.34" x2="944.5" y2="1999.98" stroke="#0000DD" stroke-width="2.5" stroke-linecap="butt"/>
<line x1="939.25" y1="1982.34" x2="949.75" y2="1982.34" stroke="#0000DD" stroke-width="2.5" stroke-linecap="butt"/>
<line x1="939.25" y1="1999.98" x2="949.75" y2="1999.98" stroke="#0000DD" stroke-width="2.5" stroke-linecap="butt"/>
<polyline points="665.6,1914.3 735.2,1926.14 805.4,1982.34 875,1992.17 944.5,1992.17" stroke="#0000DD" stroke-width="4.6" fill="none" stroke-linejoin="round"/>
<polygon points="665.6,1919.95 660.1,1910.05 671.1,1910.05" fill="none" stroke="#0000DD" stroke-width="2.5" stroke-linejoin="miter" stroke-linejoin="round"/>
<polygon points="735.2,1931.79 729.7,1921.89 740.7,1921.89" fill="none" stroke="#0000DD" stroke-width="2.5" stroke-linejoin="miter" stroke-linejoin="round"/>
<polygon points="805.4,1987.99 799.9,1978.09 810.9,1978.09" fill="none" stroke="#0000DD" stroke-width="2.5" stroke-linejoin="miter" stroke-linejoin="round"/>
<polygon points="875,1997.82 869.5,1987.92 880.5,1987.92" fill="none" stroke="#0000DD" stroke-width="2.5" stroke-linejoin="miter" stroke-linejoin="round"/>
<polygon points="944.5,1997.82 939,1987.92 950,1987.92" fill="none" stroke="#0000DD" stroke-width="2.5" stroke-linejoin="miter" stroke-linejoin="round"/>
<line x1="665.6" y1="1979.82" x2="665.6" y2="2013.59" stroke="#1FB4E8" stroke-width="2.5" stroke-linecap="butt"/>
<line x1="660.35" y1="1979.82" x2="670.85" y2="1979.82" stroke="#1FB4E8" stroke-width="2.5" stroke-linecap="butt"/>
<line x1="660.35" y1="2013.59" x2="670.85" y2="2013.59" stroke="#1FB4E8" stroke-width="2.5" stroke-linecap="butt"/>
<line x1="735.2" y1="2023.92" x2="735.2" y2="2045.34" stroke="#1FB4E8" stroke-width="2.5" stroke-linecap="butt"/>
<line x1="729.95" y1="2023.92" x2="740.45" y2="2023.92" stroke="#1FB4E8" stroke-width="2.5" stroke-linecap="butt"/>
<line x1="729.95" y1="2045.34" x2="740.45" y2="2045.34" stroke="#1FB4E8" stroke-width="2.5" stroke-linecap="butt"/>
<line x1="805.4" y1="2012.58" x2="805.4" y2="2037.78" stroke="#1FB4E8" stroke-width="2.5" stroke-linecap="butt"/>
<line x1="800.15" y1="2012.58" x2="810.65" y2="2012.58" stroke="#1FB4E8" stroke-width="2.5" stroke-linecap="butt"/>
<line x1="800.15" y1="2037.78" x2="810.65" y2="2037.78" stroke="#1FB4E8" stroke-width="2.5" stroke-linecap="butt"/>
<line x1="875" y1="2035.26" x2="875" y2="2062.98" stroke="#1FB4E8" stroke-width="2.5" stroke-linecap="butt"/>
<line x1="869.75" y1="2035.26" x2="880.25" y2="2035.26" stroke="#1FB4E8" stroke-width="2.5" stroke-linecap="butt"/>
<line x1="869.75" y1="2062.98" x2="880.25" y2="2062.98" stroke="#1FB4E8" stroke-width="2.5" stroke-linecap="butt"/>
<line x1="944.5" y1="2051.14" x2="944.5" y2="2068.02" stroke="#1FB4E8" stroke-width="2.5" stroke-linecap="butt"/>
<line x1="939.25" y1="2051.14" x2="949.75" y2="2051.14" stroke="#1FB4E8" stroke-width="2.5" stroke-linecap="butt"/>
<line x1="939.25" y1="2068.02" x2="949.75" y2="2068.02" stroke="#1FB4E8" stroke-width="2.5" stroke-linecap="butt"/>
<polyline points="665.6,1996.7 735.2,2034.25 805.4,2024.68 875,2049.37 944.5,2059.7" stroke="#1FB4E8" stroke-width="4" fill="none" stroke-linejoin="round"/>
<polygon points="665.6,1991.05 660.1,2000.95 671.1,2000.95" fill="none" stroke="#1FB4E8" stroke-width="2.5" stroke-linejoin="miter" stroke-linejoin="round"/>
<polygon points="735.2,2028.6 729.7,2038.5 740.7,2038.5" fill="none" stroke="#1FB4E8" stroke-width="2.5" stroke-linejoin="miter" stroke-linejoin="round"/>
<polygon points="805.4,2019.03 799.9,2028.93 810.9,2028.93" fill="none" stroke="#1FB4E8" stroke-width="2.5" stroke-linejoin="miter" stroke-linejoin="round"/>
<polygon points="875,2043.72 869.5,2053.62 880.5,2053.62" fill="none" stroke="#1FB4E8" stroke-width="2.5" stroke-linejoin="miter" stroke-linejoin="round"/>
<polygon points="944.5,2054.05 939,2063.95 950,2063.95" fill="none" stroke="#1FB4E8" stroke-width="2.5" stroke-linejoin="miter" stroke-linejoin="round"/>
<line x1="665.6" y1="1902.96" x2="665.6" y2="1954.12" stroke="#D7191C" stroke-width="2.5" stroke-linecap="butt"/>
<line x1="660.35" y1="1902.96" x2="670.85" y2="1902.96" stroke="#D7191C" stroke-width="2.5" stroke-linecap="butt"/>
<line x1="660.35" y1="1954.12" x2="670.85" y2="1954.12" stroke="#D7191C" stroke-width="2.5" stroke-linecap="butt"/>
<line x1="735.2" y1="1976.29" x2="735.2" y2="2022.16" stroke="#D7191C" stroke-width="2.5" stroke-linecap="butt"/>
<line x1="729.95" y1="1976.29" x2="740.45" y2="1976.29" stroke="#D7191C" stroke-width="2.5" stroke-linecap="butt"/>
<line x1="729.95" y1="2022.16" x2="740.45" y2="2022.16" stroke="#D7191C" stroke-width="2.5" stroke-linecap="butt"/>
<line x1="805.4" y1="2002.5" x2="805.4" y2="2027.7" stroke="#D7191C" stroke-width="2.5" stroke-linecap="butt"/>
<line x1="800.15" y1="2002.5" x2="810.65" y2="2002.5" stroke="#D7191C" stroke-width="2.5" stroke-linecap="butt"/>
<line x1="800.15" y1="2027.7" x2="810.65" y2="2027.7" stroke="#D7191C" stroke-width="2.5" stroke-linecap="butt"/>
<line x1="875" y1="1992.42" x2="875" y2="2007.54" stroke="#D7191C" stroke-width="2.5" stroke-linecap="butt"/>
<line x1="869.75" y1="1992.42" x2="880.25" y2="1992.42" stroke="#D7191C" stroke-width="2.5" stroke-linecap="butt"/>
<line x1="869.75" y1="2007.54" x2="880.25" y2="2007.54" stroke="#D7191C" stroke-width="2.5" stroke-linecap="butt"/>
<line x1="944.5" y1="1992.42" x2="944.5" y2="2007.54" stroke="#D7191C" stroke-width="2.5" stroke-linecap="butt"/>
<line x1="939.25" y1="1992.42" x2="949.75" y2="1992.42" stroke="#D7191C" stroke-width="2.5" stroke-linecap="butt"/>
<line x1="939.25" y1="2007.54" x2="949.75" y2="2007.54" stroke="#D7191C" stroke-width="2.5" stroke-linecap="butt"/>
<polyline points="665.6,1926.9 735.2,1999.98 805.4,2014.6 875,1999.48 944.5,1999.48" stroke="#D7191C" stroke-width="4" fill="none" stroke-linejoin="round"/>
<rect x="661" y="1922.3" width="9.2" height="9.2" fill="none" stroke="#D7191C" stroke-width="2.5"/>
<rect x="730.6" y="1995.38" width="9.2" height="9.2" fill="none" stroke="#D7191C" stroke-width="2.5"/>
<rect x="800.8" y="2010" width="9.2" height="9.2" fill="none" stroke="#D7191C" stroke-width="2.5"/>
<rect x="870.4" y="1994.88" width="9.2" height="9.2" fill="none" stroke="#D7191C" stroke-width="2.5"/>
<rect x="939.9" y="1994.88" width="9.2" height="9.2" fill="none" stroke="#D7191C" stroke-width="2.5"/>
<text x="666.3" y="1986.7" font-size="34" text-anchor="middle">*</text>
<text x="875" y="2041" font-size="34" text-anchor="middle">*</text>
<text x="946.2" y="2056.3" font-size="34" text-anchor="middle">**</text>
<line x1="1119.8" y1="1850.55" x2="1119.8" y2="2106.8" stroke="#000" stroke-width="3.2" stroke-linecap="butt"/>
<line x1="1109.3" y1="2105.2" x2="1119.8" y2="2105.2" stroke="#000" stroke-width="3.2" stroke-linecap="butt"/>
<text x="1106.3" y="2112.04" font-size="19" text-anchor="end">0.0</text>
<line x1="1109.3" y1="2020.85" x2="1119.8" y2="2020.85" stroke="#000" stroke-width="3.2" stroke-linecap="butt"/>
<text x="1106.3" y="2027.69" font-size="19" text-anchor="end">0.5</text>
<line x1="1109.3" y1="1936.5" x2="1119.8" y2="1936.5" stroke="#000" stroke-width="3.2" stroke-linecap="butt"/>
<text x="1106.3" y="1943.34" font-size="19" text-anchor="end">1.0</text>
<line x1="1109.3" y1="1852.15" x2="1119.8" y2="1852.15" stroke="#000" stroke-width="3.2" stroke-linecap="butt"/>
<text x="1106.3" y="1858.99" font-size="19" text-anchor="end">1.5</text>
<line x1="1109.3" y1="2105.2" x2="1493.6" y2="2105.2" stroke="#000" stroke-width="3.2" stroke-linecap="butt"/>
<line x1="1165.7" y1="2105.2" x2="1165.7" y2="2116.2" stroke="#000" stroke-width="3.2" stroke-linecap="butt"/>
<text x="1165.7" y="2135.5" font-size="19.5" text-anchor="middle">BL</text>
<line x1="1236.3" y1="2105.2" x2="1236.3" y2="2116.2" stroke="#000" stroke-width="3.2" stroke-linecap="butt"/>
<text x="1236.3" y="2135.5" font-size="19.5" text-anchor="middle">3</text>
<line x1="1306.2" y1="2105.2" x2="1306.2" y2="2116.2" stroke="#000" stroke-width="3.2" stroke-linecap="butt"/>
<text x="1306.2" y="2135.5" font-size="19.5" text-anchor="middle">7</text>
<line x1="1376.5" y1="2105.2" x2="1376.5" y2="2116.2" stroke="#000" stroke-width="3.2" stroke-linecap="butt"/>
<text x="1376.5" y="2135.5" font-size="19.5" text-anchor="middle">14</text>
<line x1="1446.1" y1="2105.2" x2="1446.1" y2="2116.2" stroke="#000" stroke-width="3.2" stroke-linecap="butt"/>
<text x="1446.1" y="2135.5" font-size="19.5" text-anchor="middle">28</text>
<text x="1307" y="1819.7" font-size="23.8" text-anchor="middle">Contralateral</text>
<text x="1307" y="2176.8" font-size="21" text-anchor="middle">Time (days)</text>
<text x="1044.5" y="1978.6" font-size="21.2" text-anchor="middle" transform="rotate(-90 1044.5 1978.6)">Mechanical withdrawal</text>
<text x="1070" y="1978.6" font-size="21.2" text-anchor="middle" transform="rotate(-90 1070 1978.6)">threshold (g)</text>
<text transform="translate(1006,1822) scale(0.85,1)" x="0" y="0" font-size="50">n</text>
<rect x="1141" y="2000.28" width="7.4" height="7.4" fill="rgba(225,60,60,0.45)"/>
<rect x="1152.6" y="2000.28" width="7.4" height="7.4" fill="rgba(225,60,60,0.45)"/>
<rect x="1164.3" y="2000.28" width="7.4" height="7.4" fill="rgba(225,60,60,0.45)"/>
<rect x="1152.6" y="1932.8" width="7.4" height="7.4" fill="rgba(225,60,60,0.45)"/>
<rect x="1218.6" y="2034.02" width="7.4" height="7.4" fill="rgba(225,60,60,0.45)"/>
<rect x="1228.6" y="2034.02" width="7.4" height="7.4" fill="rgba(225,60,60,0.45)"/>
<rect x="1238.6" y="2034.02" width="7.4" height="7.4" fill="rgba(225,60,60,0.45)"/>
<rect x="1228.6" y="2089.69" width="7.4" height="7.4" fill="rgba(225,60,60,0.45)"/>
<rect x="1238.6" y="2089.69" width="7.4" height="7.4" fill="rgba(225,60,60,0.45)"/>
<rect x="1292.5" y="2074.51" width="7.4" height="7.4" fill="rgba(225,60,60,0.45)"/>
<rect x="1302.5" y="2034.02" width="7.4" height="7.4" fill="rgba(225,60,60,0.45)"/>
<rect x="1312.5" y="2089.69" width="7.4" height="7.4" fill="rgba(225,60,60,0.45)"/>
<rect x="1364.8" y="2074.51" width="7.4" height="7.4" fill="rgba(225,60,60,0.45)"/>
<rect x="1374.8" y="2074.51" width="7.4" height="7.4" fill="rgba(225,60,60,0.45)"/>
<rect x="1384.8" y="2074.51" width="7.4" height="7.4" fill="rgba(225,60,60,0.45)"/>
<rect x="1362.8" y="2034.02" width="7.4" height="7.4" fill="rgba(225,60,60,0.45)"/>
<rect x="1374.8" y="2034.02" width="7.4" height="7.4" fill="rgba(225,60,60,0.45)"/>
<rect x="1452.4" y="2000.28" width="7.4" height="7.4" fill="rgba(225,60,60,0.45)"/>
<rect x="1444.4" y="2034.02" width="7.4" height="7.4" fill="rgba(225,60,60,0.45)"/>
<rect x="1454.4" y="2034.02" width="7.4" height="7.4" fill="rgba(225,60,60,0.45)"/>
<rect x="1466.4" y="2034.02" width="7.4" height="7.4" fill="rgba(225,60,60,0.45)"/>
<polygon points="1145,1864.43 1149.59,1869.02 1145,1873.61 1140.41,1869.02" fill="rgba(255,170,80,0.7)"/>
<polygon points="1156.3,1864.43 1160.89,1869.02 1156.3,1873.61 1151.71,1869.02" fill="rgba(255,170,80,0.7)"/>
<polygon points="1168,1864.43 1172.59,1869.02 1168,1873.61 1163.41,1869.02" fill="rgba(255,170,80,0.7)"/>
<polygon points="1145,1931.91 1149.59,1936.5 1145,1941.09 1140.41,1936.5" fill="rgba(255,170,80,0.7)"/>
<polygon points="1168,1931.91 1172.59,1936.5 1168,1941.09 1163.41,1936.5" fill="rgba(255,170,80,0.7)"/>
<polygon points="1145,1999.39 1149.59,2003.98 1145,2008.57 1140.41,2003.98" fill="rgba(255,170,80,0.7)"/>
<polygon points="1168,1999.39 1172.59,2003.98 1168,2008.57 1163.41,2003.98" fill="rgba(255,170,80,0.7)"/>
<polygon points="1221.3,1999.39 1225.89,2003.98 1221.3,2008.57 1216.71,2003.98" fill="rgba(255,170,80,0.7)"/>
<polygon points="1231.9,1999.39 1236.49,2003.98 1231.9,2008.57 1227.31,2003.98" fill="rgba(255,170,80,0.7)"/>
<polygon points="1298.2,1999.39 1302.79,2003.98 1298.2,2008.57 1293.61,2003.98" fill="rgba(255,170,80,0.7)"/>
<polygon points="1308.2,1999.39 1312.79,2003.98 1308.2,2008.57 1303.61,2003.98" fill="rgba(255,170,80,0.7)"/>
<polygon points="1318.2,1999.39 1322.79,2003.98 1318.2,2008.57 1313.61,2003.98" fill="rgba(255,170,80,0.7)"/>
<polygon points="1308.2,1931.91 1312.79,1936.5 1308.2,1941.09 1303.61,1936.5" fill="rgba(255,170,80,0.7)"/>
<polygon points="1381.5,1931.91 1386.09,1936.5 1381.5,1941.09 1376.91,1936.5" fill="rgba(255,170,80,0.7)"/>
<polygon points="1381.5,1999.39 1386.09,2003.98 1381.5,2008.57 1376.91,2003.98" fill="rgba(255,170,80,0.7)"/>
<polygon points="1392.5,1999.39 1397.09,2003.98 1392.5,2008.57 1387.91,2003.98" fill="rgba(255,170,80,0.7)"/>
<polygon points="1438.1,1999.39 1442.69,2003.98 1438.1,2008.57 1433.51,2003.98" fill="rgba(255,170,80,0.7)"/>
<polygon points="1468.1,1999.39 1472.69,2003.98 1468.1,2008.57 1463.51,2003.98" fill="rgba(255,170,80,0.7)"/>
<polygon points="1448.1,1999.39 1452.69,2003.98 1448.1,2008.57 1443.51,2003.98" fill="rgba(255,170,80,0.7)"/>
<circle cx="1156.3" cy="2003.98" r="3.7" fill="rgba(255,120,30,0.75)"/>
<circle cx="1156.3" cy="2037.72" r="3.7" fill="rgba(255,120,30,0.75)"/>
<circle cx="1168" cy="2003.98" r="3.7" fill="rgba(255,120,30,0.75)"/>
<circle cx="1231.9" cy="1936.5" r="3.7" fill="rgba(255,120,30,0.75)"/>
<circle cx="1231.9" cy="2003.98" r="3.7" fill="rgba(255,120,30,0.75)"/>
<circle cx="1231.9" cy="2078.21" r="3.7" fill="rgba(255,120,30,0.75)"/>
<circle cx="1231.9" cy="2105.2" r="3.7" fill="rgba(255,120,30,0.75)"/>
<circle cx="1296.2" cy="2037.72" r="3.7" fill="rgba(255,120,30,0.75)"/>
<circle cx="1310.2" cy="2093.39" r="3.7" fill="rgba(255,120,30,0.75)"/>
<circle cx="1380.5" cy="2037.72" r="3.7" fill="rgba(255,120,30,0.75)"/>
<circle cx="1392.5" cy="2037.72" r="3.7" fill="rgba(255,120,30,0.75)"/>
<circle cx="1380.5" cy="2003.98" r="3.7" fill="rgba(255,120,30,0.75)"/>
<circle cx="1457.1" cy="1936.5" r="3.7" fill="rgba(255,120,30,0.75)"/>
<circle cx="1457.1" cy="2078.21" r="3.7" fill="rgba(255,120,30,0.75)"/>
<circle cx="1457.1" cy="2003.98" r="3.7" fill="rgba(255,120,30,0.75)"/>
<line x1="1165.7" y1="1952.19" x2="1165.7" y2="2003.31" stroke="#FF7F27" stroke-width="2.5" stroke-linecap="butt"/>
<line x1="1160.45" y1="1952.19" x2="1170.95" y2="1952.19" stroke="#FF7F27" stroke-width="2.5" stroke-linecap="butt"/>
<line x1="1160.45" y1="2003.31" x2="1170.95" y2="2003.31" stroke="#FF7F27" stroke-width="2.5" stroke-linecap="butt"/>
<line x1="1236.3" y1="2023.55" x2="1236.3" y2="2043.79" stroke="#FF7F27" stroke-width="2.5" stroke-linecap="butt"/>
<line x1="1231.05" y1="2023.55" x2="1241.55" y2="2023.55" stroke="#FF7F27" stroke-width="2.5" stroke-linecap="butt"/>
<line x1="1231.05" y1="2043.79" x2="1241.55" y2="2043.79" stroke="#FF7F27" stroke-width="2.5" stroke-linecap="butt"/>
<line x1="1306.2" y1="2025.91" x2="1306.2" y2="2063.87" stroke="#FF7F27" stroke-width="2.5" stroke-linecap="butt"/>
<line x1="1300.95" y1="2025.91" x2="1311.45" y2="2025.91" stroke="#FF7F27" stroke-width="2.5" stroke-linecap="butt"/>
<line x1="1300.95" y1="2063.87" x2="1311.45" y2="2063.87" stroke="#FF7F27" stroke-width="2.5" stroke-linecap="butt"/>
<line x1="1376.5" y1="2029.28" x2="1376.5" y2="2051.22" stroke="#FF7F27" stroke-width="2.5" stroke-linecap="butt"/>
<line x1="1371.25" y1="2029.28" x2="1381.75" y2="2029.28" stroke="#FF7F27" stroke-width="2.5" stroke-linecap="butt"/>
<line x1="1371.25" y1="2051.22" x2="1381.75" y2="2051.22" stroke="#FF7F27" stroke-width="2.5" stroke-linecap="butt"/>
<line x1="1446.1" y1="2020.18" x2="1446.1" y2="2053.75" stroke="#FF7F27" stroke-width="2.5" stroke-linecap="butt"/>
<line x1="1440.85" y1="2020.18" x2="1451.35" y2="2020.18" stroke="#FF7F27" stroke-width="2.5" stroke-linecap="butt"/>
<line x1="1440.85" y1="2053.75" x2="1451.35" y2="2053.75" stroke="#FF7F27" stroke-width="2.5" stroke-linecap="butt"/>
<polyline points="1165.7,1977.49 1236.3,2033.67 1306.2,2044.81 1376.5,2040.42 1446.1,2025.24" stroke="#FF7F27" stroke-width="4" fill="none" stroke-linejoin="round"/>
<circle cx="1165.7" cy="1977.49" r="4.6" fill="none" stroke="#FF7F27" stroke-width="2.5"/>
<circle cx="1236.3" cy="2033.67" r="4.6" fill="none" stroke="#FF7F27" stroke-width="2.5"/>
<circle cx="1306.2" cy="2044.81" r="4.6" fill="none" stroke="#FF7F27" stroke-width="2.5"/>
<circle cx="1376.5" cy="2040.42" r="4.6" fill="none" stroke="#FF7F27" stroke-width="2.5"/>
<circle cx="1446.1" cy="2025.24" r="4.6" fill="none" stroke="#FF7F27" stroke-width="2.5"/>
<line x1="1165.7" y1="1889.1" x2="1165.7" y2="1919.29" stroke="#FFA040" stroke-width="2.5" stroke-linecap="butt"/>
<line x1="1160.45" y1="1889.1" x2="1170.95" y2="1889.1" stroke="#FFA040" stroke-width="2.5" stroke-linecap="butt"/>
<line x1="1160.45" y1="1919.29" x2="1170.95" y2="1919.29" stroke="#FFA040" stroke-width="2.5" stroke-linecap="butt"/>
<line x1="1236.3" y1="1987.11" x2="1236.3" y2="2023.55" stroke="#FFA040" stroke-width="2.5" stroke-linecap="butt"/>
<line x1="1231.05" y1="1987.11" x2="1241.55" y2="1987.11" stroke="#FFA040" stroke-width="2.5" stroke-linecap="butt"/>
<line x1="1231.05" y1="2023.55" x2="1241.55" y2="2023.55" stroke="#FFA040" stroke-width="2.5" stroke-linecap="butt"/>
<line x1="1306.2" y1="1982.56" x2="1306.2" y2="2015.11" stroke="#FFA040" stroke-width="2.5" stroke-linecap="butt"/>
<line x1="1300.95" y1="1982.56" x2="1311.45" y2="1982.56" stroke="#FFA040" stroke-width="2.5" stroke-linecap="butt"/>
<line x1="1300.95" y1="2015.11" x2="1311.45" y2="2015.11" stroke="#FFA040" stroke-width="2.5" stroke-linecap="butt"/>
<line x1="1376.5" y1="1989.98" x2="1376.5" y2="2037.05" stroke="#FFA040" stroke-width="2.5" stroke-linecap="butt"/>
<line x1="1371.25" y1="1989.98" x2="1381.75" y2="1989.98" stroke="#FFA040" stroke-width="2.5" stroke-linecap="butt"/>
<line x1="1371.25" y1="2037.05" x2="1381.75" y2="2037.05" stroke="#FFA040" stroke-width="2.5" stroke-linecap="butt"/>
<line x1="1446.1" y1="1972.1" x2="1446.1" y2="2005.16" stroke="#FFA040" stroke-width="2.5" stroke-linecap="butt"/>
<line x1="1440.85" y1="1972.1" x2="1451.35" y2="1972.1" stroke="#FFA040" stroke-width="2.5" stroke-linecap="butt"/>
<line x1="1440.85" y1="2005.16" x2="1451.35" y2="2005.16" stroke="#FFA040" stroke-width="2.5" stroke-linecap="butt"/>
<polyline points="1165.7,1904.28 1236.3,2005.67 1306.2,1998.92 1376.5,2014.44 1446.1,1988.46" stroke="#FFA040" stroke-width="4" fill="none" stroke-linejoin="round"/>
<polygon points="1165.7,1897.88 1172.1,1904.28 1165.7,1910.68 1159.3,1904.28" fill="none" stroke="#FFA040" stroke-width="2.5" stroke-linejoin="miter" stroke-linejoin="round"/>
<polygon points="1236.3,1999.27 1242.7,2005.67 1236.3,2012.07 1229.9,2005.67" fill="none" stroke="#FFA040" stroke-width="2.5" stroke-linejoin="miter" stroke-linejoin="round"/>
<polygon points="1306.2,1992.52 1312.6,1998.92 1306.2,2005.32 1299.8,1998.92" fill="none" stroke="#FFA040" stroke-width="2.5" stroke-linejoin="miter" stroke-linejoin="round"/>
<polygon points="1376.5,2008.04 1382.9,2014.44 1376.5,2020.84 1370.1,2014.44" fill="none" stroke="#FFA040" stroke-width="2.5" stroke-linejoin="miter" stroke-linejoin="round"/>
<polygon points="1446.1,1982.06 1452.5,1988.46 1446.1,1994.86 1439.7,1988.46" fill="none" stroke="#FFA040" stroke-width="2.5" stroke-linejoin="miter" stroke-linejoin="round"/>
<line x1="1165.7" y1="1984.92" x2="1165.7" y2="2005.16" stroke="#D7191C" stroke-width="2.5" stroke-linecap="butt"/>
<line x1="1160.45" y1="1984.92" x2="1170.95" y2="1984.92" stroke="#D7191C" stroke-width="2.5" stroke-linecap="butt"/>
<line x1="1160.45" y1="2005.16" x2="1170.95" y2="2005.16" stroke="#D7191C" stroke-width="2.5" stroke-linecap="butt"/>
<line x1="1236.3" y1="2048.85" x2="1236.3" y2="2075.68" stroke="#D7191C" stroke-width="2.5" stroke-linecap="butt"/>
<line x1="1231.05" y1="2048.85" x2="1241.55" y2="2048.85" stroke="#D7191C" stroke-width="2.5" stroke-linecap="butt"/>
<line x1="1231.05" y1="2075.68" x2="1241.55" y2="2075.68" stroke="#D7191C" stroke-width="2.5" stroke-linecap="butt"/>
<line x1="1306.2" y1="2068.93" x2="1306.2" y2="2088.33" stroke="#D7191C" stroke-width="2.5" stroke-linecap="butt"/>
<line x1="1300.95" y1="2068.93" x2="1311.45" y2="2068.93" stroke="#D7191C" stroke-width="2.5" stroke-linecap="butt"/>
<line x1="1300.95" y1="2088.33" x2="1311.45" y2="2088.33" stroke="#D7191C" stroke-width="2.5" stroke-linecap="butt"/>
<line x1="1376.5" y1="2055.43" x2="1376.5" y2="2072.3" stroke="#D7191C" stroke-width="2.5" stroke-linecap="butt"/>
<line x1="1371.25" y1="2055.43" x2="1381.75" y2="2055.43" stroke="#D7191C" stroke-width="2.5" stroke-linecap="butt"/>
<line x1="1371.25" y1="2072.3" x2="1381.75" y2="2072.3" stroke="#D7191C" stroke-width="2.5" stroke-linecap="butt"/>
<line x1="1446.1" y1="2025.07" x2="1446.1" y2="2037.72" stroke="#D7191C" stroke-width="2.5" stroke-linecap="butt"/>
<line x1="1440.85" y1="2025.07" x2="1451.35" y2="2025.07" stroke="#D7191C" stroke-width="2.5" stroke-linecap="butt"/>
<line x1="1440.85" y1="2037.72" x2="1451.35" y2="2037.72" stroke="#D7191C" stroke-width="2.5" stroke-linecap="butt"/>
<polyline points="1165.7,1994.87 1236.3,2062.18 1306.2,2078.21 1376.5,2063.87 1446.1,2031.31" stroke="#D7191C" stroke-width="4" fill="none" stroke-linejoin="round"/>
<rect x="1161.1" y="1990.27" width="9.2" height="9.2" fill="none" stroke="#D7191C" stroke-width="2.5"/>
<rect x="1231.7" y="2057.58" width="9.2" height="9.2" fill="none" stroke="#D7191C" stroke-width="2.5"/>
<rect x="1301.6" y="2073.61" width="9.2" height="9.2" fill="none" stroke="#D7191C" stroke-width="2.5"/>
<rect x="1371.9" y="2059.27" width="9.2" height="9.2" fill="none" stroke="#D7191C" stroke-width="2.5"/>
<rect x="1441.5" y="2026.71" width="9.2" height="9.2" fill="none" stroke="#D7191C" stroke-width="2.5"/>
<text x="1167.3" y="1876.2" font-size="34" text-anchor="middle">**</text>
<text x="1237" y="1987.6" font-size="34" text-anchor="middle">*</text>
<text x="1306.9" y="1984.3" font-size="34" text-anchor="middle">*</text>
<text x="1377.2" y="1991.7" font-size="34" text-anchor="middle">*</text>
<text x="1446.1" y="1975.6" font-size="34" text-anchor="middle">*</text></svg></body></html>
